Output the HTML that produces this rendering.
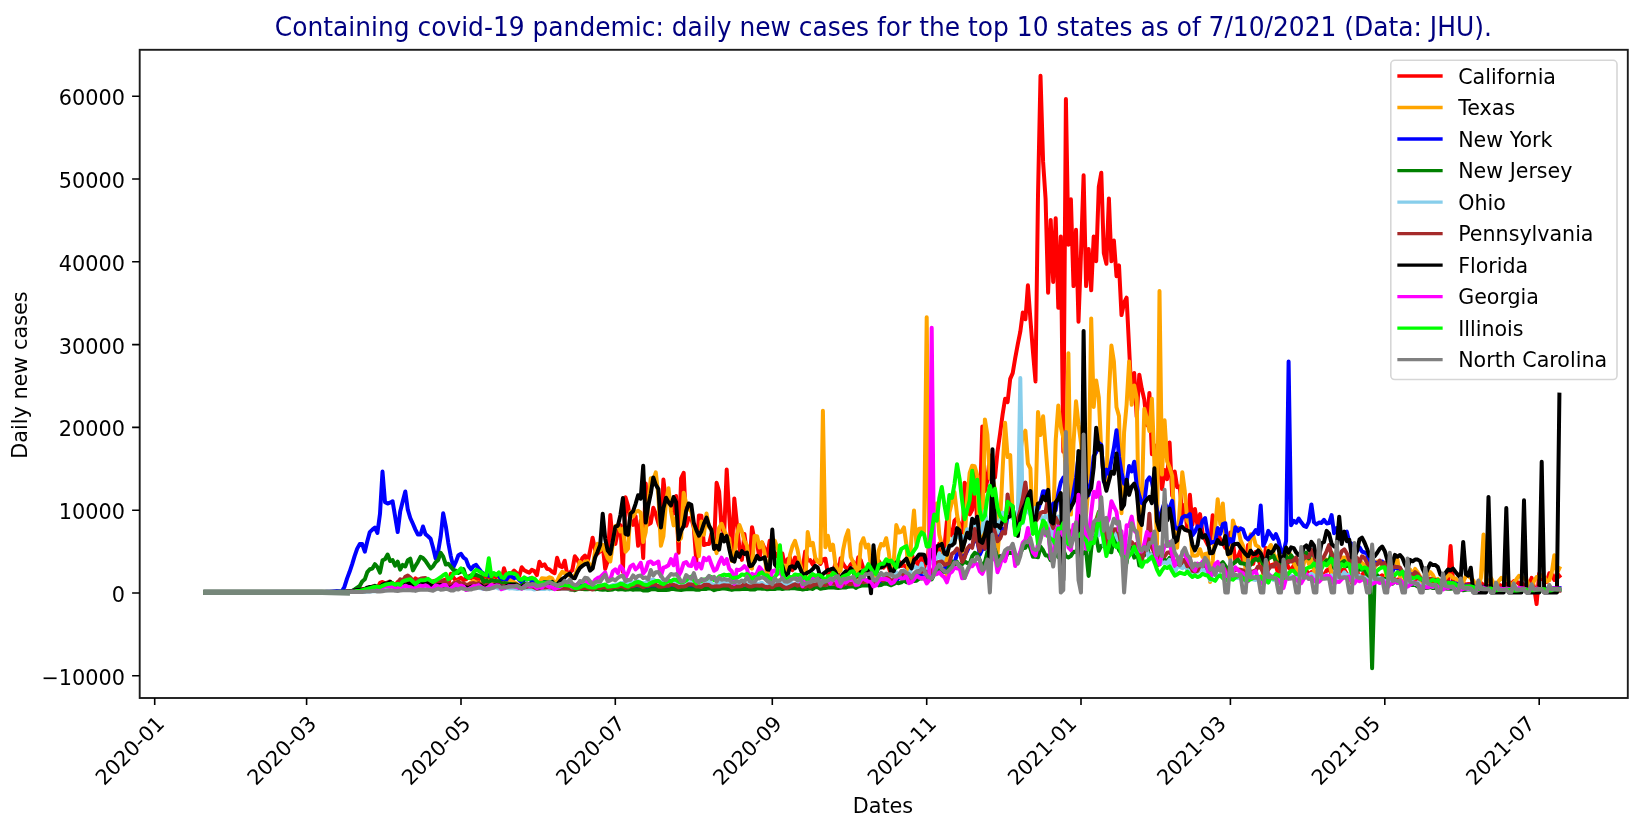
<!DOCTYPE html>
<html lang="en"><head><meta charset="utf-8"><title>Daily new cases</title>
<style>html,body{margin:0;padding:0;background:#fff}body{width:1643px;height:829px;overflow:hidden}svg{display:block;filter:blur(0.55px)}text{font-family:"DejaVu Sans","Liberation Sans",sans-serif}</style></head><body>
<svg width="1643" height="829" viewBox="0 0 1643 829">
<rect width="1643" height="829" fill="#fff"/>
<defs><clipPath id="ax"><rect x="139.7" y="49.8" width="1488.1" height="648.2"/></clipPath></defs>
<g clip-path="url(#ax)" fill="none" stroke-width="4.00" stroke-linejoin="round" stroke-linecap="square">
<polyline stroke="#ff0000" points="205.3,592.5 207.9,592.5 210.4,592.5 212.9,592.5 215.4,592.5 218.0,592.5 220.5,592.5 223.0,592.5 225.6,592.5 228.1,592.5 230.6,592.5 233.2,592.5 235.7,592.5 238.2,592.5 240.8,592.5 243.3,592.5 245.8,592.5 248.3,592.5 250.9,592.5 253.4,592.5 255.9,592.5 258.5,592.5 261.0,592.5 263.5,592.5 266.1,592.5 268.6,592.5 271.1,592.5 273.7,592.5 276.2,592.5 278.7,592.5 281.2,592.5 283.8,592.5 286.3,592.5 288.8,592.5 291.4,592.5 293.9,592.5 296.4,592.5 299.0,592.5 301.5,592.5 304.0,592.4 306.6,592.5 309.1,592.4 311.6,592.4 314.2,592.4 316.7,592.4 319.2,592.3 321.7,592.4 324.3,592.4 326.8,592.3 329.3,592.3 331.9,592.3 334.4,592.3 336.9,592.3 339.5,592.3 342.0,592.3 344.5,591.7 347.1,591.4 349.6,591.3 352.1,591.0 354.6,591.0 357.2,590.4 359.7,590.8 362.2,589.3 364.8,589.8 367.3,589.8 369.8,588.8 372.4,586.5 374.9,588.8 377.4,588.5 380.0,582.9 382.5,581.9 385.0,583.2 387.6,586.0 390.1,586.2 392.6,583.4 395.1,585.8 397.7,581.9 400.2,580.5 402.7,581.6 405.3,582.5 407.8,581.7 410.3,582.4 412.9,581.8 415.4,578.4 417.9,580.2 420.5,581.5 423.0,584.3 425.5,579.1 428.0,580.7 430.6,582.5 433.1,581.2 435.6,580.8 438.2,579.9 440.7,583.9 443.2,580.3 445.8,579.5 448.3,584.8 450.8,573.8 453.4,577.6 455.9,580.6 458.4,579.2 461.0,577.7 463.5,580.0 466.0,579.4 468.5,576.4 471.1,578.1 473.6,577.1 476.1,578.5 478.7,579.4 481.2,577.2 483.7,577.6 486.3,574.5 488.8,578.9 491.3,578.3 493.9,577.7 496.4,577.0 498.9,574.6 501.4,581.7 504.0,568.2 506.5,576.8 509.0,577.8 511.6,573.4 514.1,570.6 516.6,573.0 519.2,576.3 521.7,567.3 524.2,570.3 526.8,571.6 529.3,572.8 531.8,569.9 534.4,571.1 536.9,575.1 539.4,561.8 541.9,566.0 544.5,564.3 547.0,568.7 549.5,569.4 552.1,571.8 554.6,573.2 557.1,557.8 559.7,566.2 562.2,567.1 564.7,560.7 567.3,574.9 569.8,572.5 572.3,570.3 574.8,556.3 577.4,559.7 579.9,565.5 582.4,557.9 585.0,555.6 587.5,562.7 590.0,551.1 592.6,537.7 595.1,549.8 597.6,553.5 600.2,551.2 602.7,545.0 605.2,569.0 607.7,561.2 610.3,515.0 612.8,541.9 615.3,544.0 617.9,531.7 620.4,525.1 622.9,571.8 625.5,497.3 628.0,505.9 630.5,520.9 633.1,524.8 635.6,516.2 638.1,545.8 640.7,520.5 643.2,557.9 645.7,483.5 648.2,524.4 650.8,522.9 653.3,507.8 655.8,514.2 658.4,523.5 660.9,530.1 663.4,479.6 666.0,502.5 668.5,501.2 671.0,504.6 673.6,513.7 676.1,496.1 678.6,552.7 681.1,478.3 683.7,472.8 686.2,525.8 688.7,518.2 691.3,518.0 693.8,527.7 696.3,561.3 698.9,515.4 701.4,515.7 703.9,545.0 706.5,544.1 709.0,543.9 711.5,533.8 714.1,545.1 716.6,482.8 719.1,491.5 721.6,527.7 724.2,532.9 726.7,469.5 729.2,514.5 731.8,556.2 734.3,498.4 736.8,522.9 739.4,547.1 741.9,559.9 744.4,533.9 747.0,553.0 749.5,565.1 752.0,527.2 754.5,540.2 757.1,544.2 759.6,558.1 762.1,542.8 764.7,548.5 767.2,555.9 769.7,540.8 772.3,554.0 774.8,552.5 777.3,556.5 779.9,554.4 782.4,553.6 784.9,567.2 787.5,559.2 790.0,557.6 792.5,570.2 795.0,557.5 797.6,558.6 800.1,567.0 802.6,568.6 805.2,551.4 807.7,560.6 810.2,560.1 812.8,564.9 815.3,559.0 817.8,560.8 820.4,563.9 822.9,559.5 825.4,558.7 827.9,573.7 830.5,569.9 833.0,571.8 835.5,563.6 838.1,575.8 840.6,558.3 843.1,564.0 845.7,567.6 848.2,569.0 850.7,564.4 853.3,561.9 855.8,571.5 858.3,557.2 860.8,560.3 863.4,568.7 865.9,571.8 868.4,567.7 871.0,565.0 873.5,578.0 876.0,561.8 878.6,560.8 881.1,565.5 883.6,567.6 886.2,562.5 888.7,567.5 891.2,575.4 893.8,563.1 896.3,563.9 898.8,561.3 901.3,566.0 903.9,565.1 906.4,567.7 908.9,574.4 911.5,552.3 914.0,562.3 916.5,559.5 919.1,570.8 921.6,555.5 924.1,563.8 926.7,574.1 929.2,540.9 931.7,550.8 934.2,566.3 936.8,555.5 939.3,543.5 941.8,552.1 944.4,547.7 946.9,521.3 949.4,528.8 952.0,535.4 954.5,520.7 957.0,518.2 959.6,524.0 962.1,555.4 964.6,482.7 967.2,487.1 969.7,514.4 972.2,510.1 974.7,468.6 977.3,527.5 979.8,506.5 982.3,426.5 984.9,491.0 987.4,480.1 989.9,455.5 992.5,477.3 995.0,477.5 997.5,451.7 1000.1,433.5 1002.6,414.5 1005.1,398.7 1007.6,402.1 1010.2,378.9 1012.7,373.1 1015.2,358.2 1017.8,344.1 1020.3,331.7 1022.8,312.6 1025.4,319.3 1027.9,285.3 1030.4,319.3 1033.0,352.4 1035.5,381.4 1038.0,195.1 1040.5,75.8 1043.1,161.9 1045.6,199.2 1048.1,292.8 1050.7,219.9 1053.2,282.0 1055.7,218.2 1058.3,307.7 1060.8,236.5 1063.3,451.7 1065.9,99.0 1068.4,244.7 1070.9,199.2 1073.5,286.1 1076.0,229.8 1078.5,321.7 1081.0,253.0 1083.6,175.2 1086.1,286.1 1088.6,248.9 1091.2,290.3 1093.7,236.5 1096.2,261.3 1098.8,186.8 1101.3,172.7 1103.8,253.0 1106.4,263.8 1108.9,198.4 1111.4,261.3 1113.9,240.6 1116.5,276.2 1119.0,265.4 1121.5,315.1 1124.1,302.7 1126.6,297.7 1129.1,347.4 1131.7,400.4 1134.2,373.1 1136.7,417.0 1139.3,374.7 1141.8,388.8 1144.3,399.6 1146.9,425.2 1149.4,393.0 1151.9,454.2 1154.4,445.1 1157.0,479.1 1159.5,461.7 1162.0,489.0 1164.6,470.0 1167.1,479.1 1169.6,442.6 1172.2,495.6 1174.7,471.6 1177.2,487.3 1179.8,486.5 1182.3,516.3 1184.8,504.7 1187.3,530.4 1189.9,494.8 1192.4,524.6 1194.9,508.9 1197.5,525.5 1200.0,514.1 1202.5,532.7 1205.1,539.5 1207.6,544.6 1210.1,543.6 1212.7,515.3 1215.2,531.6 1217.7,533.3 1220.3,539.4 1222.8,543.2 1225.3,547.8 1227.8,549.5 1230.4,532.4 1232.9,542.1 1235.4,561.9 1238.0,556.4 1240.5,550.3 1243.0,561.7 1245.6,560.9 1248.1,544.9 1250.6,552.0 1253.2,563.9 1255.7,551.9 1258.2,556.6 1260.7,567.8 1263.3,571.4 1265.8,547.9 1268.3,564.8 1270.9,565.3 1273.4,564.3 1275.9,566.2 1278.5,574.2 1281.0,573.3 1283.5,558.9 1286.1,561.9 1288.6,567.7 1291.1,569.7 1293.7,565.6 1296.2,570.3 1298.7,574.9 1301.2,562.6 1303.8,568.7 1306.3,570.2 1308.8,574.9 1311.4,572.1 1313.9,573.4 1316.4,581.0 1319.0,565.5 1321.5,574.9 1324.0,574.9 1326.6,570.5 1329.1,569.0 1331.6,574.0 1334.1,577.6 1336.7,568.9 1339.2,564.1 1341.7,571.8 1344.3,569.4 1346.8,573.9 1349.3,575.2 1351.9,582.9 1354.4,564.5 1356.9,568.7 1359.5,580.1 1362.0,574.8 1364.5,572.0 1367.0,581.0 1369.6,584.0 1372.1,572.0 1374.6,575.1 1377.2,580.3 1379.7,576.7 1382.2,575.3 1384.8,577.1 1387.3,579.5 1389.8,568.9 1392.4,573.3 1394.9,581.5 1397.4,579.5 1400.0,579.8 1402.5,582.1 1405.0,582.5 1407.5,574.3 1410.1,576.7 1412.6,583.3 1415.1,582.3 1417.7,579.4 1420.2,581.8 1422.7,584.1 1425.3,576.6 1427.8,580.7 1430.3,580.8 1432.9,581.2 1435.4,581.3 1437.9,584.0 1440.4,585.1 1443.0,582.7 1445.5,582.7 1448.0,583.5 1450.6,546.1 1453.1,582.6 1455.6,584.3 1458.2,587.8 1460.7,581.3 1463.2,583.6 1465.8,584.4 1468.3,584.0 1470.8,584.1 1473.4,586.3 1475.9,586.8 1478.4,581.9 1480.9,582.9 1483.5,585.0 1486.0,585.8 1488.5,586.0 1491.1,586.2 1493.6,587.8 1496.1,583.5 1498.7,584.3 1501.2,586.0 1503.7,584.8 1506.3,583.5 1508.8,585.7 1511.3,583.6 1513.8,581.1 1516.4,581.2 1518.9,584.0 1521.4,582.1 1524.0,585.8 1526.5,584.9 1529.0,585.0 1531.6,577.9 1534.1,587.5 1536.6,604.1 1539.2,573.5 1541.7,579.1 1544.2,579.7 1546.8,581.8 1549.3,573.2 1551.8,574.2 1554.3,580.0 1556.9,573.1 1559.4,576.2"/>
<polyline stroke="#ffa500" points="205.3,592.5 207.9,592.5 210.4,592.5 212.9,592.5 215.4,592.5 218.0,592.5 220.5,592.5 223.0,592.5 225.6,592.5 228.1,592.5 230.6,592.5 233.2,592.5 235.7,592.5 238.2,592.5 240.8,592.5 243.3,592.5 245.8,592.5 248.3,592.5 250.9,592.5 253.4,592.5 255.9,592.5 258.5,592.5 261.0,592.5 263.5,592.5 266.1,592.5 268.6,592.5 271.1,592.5 273.7,592.5 276.2,592.5 278.7,592.5 281.2,592.5 283.8,592.5 286.3,592.5 288.8,592.5 291.4,592.5 293.9,592.5 296.4,592.5 299.0,592.5 301.5,592.5 304.0,592.5 306.6,592.5 309.1,592.5 311.6,592.5 314.2,592.5 316.7,592.5 319.2,592.5 321.7,592.4 324.3,592.4 326.8,592.4 329.3,592.4 331.9,592.3 334.4,592.3 336.9,592.3 339.5,592.3 342.0,592.3 344.5,592.3 347.1,592.1 349.6,592.0 352.1,592.0 354.6,592.1 357.2,591.8 359.7,591.8 362.2,591.6 364.8,590.7 367.3,590.1 369.8,589.8 372.4,589.6 374.9,589.1 377.4,590.4 380.0,589.8 382.5,587.2 385.0,588.3 387.6,587.7 390.1,587.5 392.6,587.8 395.1,588.7 397.7,588.6 400.2,586.3 402.7,585.8 405.3,585.4 407.8,587.1 410.3,587.0 412.9,587.9 415.4,588.1 417.9,585.6 420.5,583.6 423.0,584.8 425.5,584.3 428.0,584.9 430.6,587.0 433.1,586.4 435.6,584.2 438.2,584.5 440.7,583.7 443.2,583.8 445.8,585.4 448.3,586.9 450.8,585.8 453.4,584.2 455.9,582.2 458.4,581.5 461.0,584.0 463.5,584.3 466.0,586.6 468.5,584.6 471.1,582.4 473.6,581.0 476.1,582.8 478.7,582.6 481.2,583.6 483.7,587.5 486.3,583.9 488.8,580.9 491.3,582.5 493.9,580.4 496.4,581.8 498.9,582.4 501.4,584.9 504.0,586.3 506.5,581.2 509.0,578.4 511.6,581.0 514.1,582.1 516.6,583.6 519.2,586.2 521.7,583.8 524.2,578.3 526.8,578.6 529.3,579.3 531.8,577.7 534.4,582.1 536.9,585.2 539.4,583.1 541.9,578.2 544.5,578.5 547.0,578.8 549.5,577.2 552.1,578.4 554.6,584.0 557.1,581.2 559.7,575.6 562.2,571.9 564.7,573.1 567.3,573.7 569.8,575.8 572.3,577.5 574.8,575.5 577.4,569.4 579.9,562.0 582.4,564.6 585.0,561.8 587.5,561.1 590.0,565.1 592.6,568.0 595.1,551.1 597.6,543.9 600.2,550.4 602.7,544.9 605.2,551.7 607.7,558.3 610.3,561.5 612.8,544.1 615.3,526.2 617.9,525.2 620.4,531.5 622.9,528.5 625.5,551.8 628.0,548.8 630.5,511.9 633.1,516.5 635.6,512.1 638.1,510.8 640.7,512.7 643.2,542.1 645.7,532.3 648.2,503.8 650.8,478.2 653.3,479.9 655.8,472.4 658.4,495.4 660.9,545.8 663.4,536.3 666.0,501.6 668.5,488.2 671.0,511.5 673.6,525.4 676.1,517.4 678.6,540.5 681.1,538.0 683.7,492.7 686.2,503.5 688.7,508.9 691.3,511.5 693.8,526.7 696.3,540.9 698.9,556.1 701.4,521.5 703.9,534.7 706.5,513.4 709.0,527.2 711.5,529.9 714.1,543.7 716.6,553.1 719.1,527.8 721.6,523.8 724.2,530.7 726.7,535.6 729.2,538.6 731.8,561.0 734.3,558.0 736.8,535.1 739.4,525.0 741.9,531.8 744.4,540.6 747.0,545.7 749.5,566.7 752.0,568.6 754.5,536.1 757.1,536.3 759.6,547.5 762.1,542.2 764.7,553.8 767.2,579.8 769.7,558.9 772.3,548.6 774.8,540.6 777.3,548.1 779.9,554.3 782.4,571.4 784.9,565.5 787.5,570.2 790.0,554.7 792.5,546.0 795.0,540.8 797.6,550.1 800.1,563.8 802.6,574.2 805.2,586.7 807.7,532.1 810.2,545.3 812.8,542.8 815.3,557.9 817.8,562.0 820.4,562.4 822.9,410.8 825.4,547.3 827.9,535.8 830.5,550.1 833.0,544.7 835.5,565.0 838.1,571.6 840.6,570.9 843.1,550.0 845.7,537.5 848.2,530.4 850.7,556.9 853.3,562.5 855.8,568.4 858.3,577.4 860.8,544.3 863.4,538.2 865.9,547.5 868.4,544.7 871.0,568.4 873.5,564.9 876.0,580.5 878.6,551.0 881.1,544.0 883.6,545.5 886.2,538.2 888.7,551.9 891.2,572.8 893.8,560.4 896.3,525.1 898.8,532.5 901.3,531.8 903.9,527.4 906.4,544.9 908.9,579.2 911.5,537.1 914.0,510.5 916.5,545.7 919.1,528.7 921.6,528.6 924.1,532.0 926.7,317.2 929.2,561.3 931.7,536.2 934.2,512.4 936.8,503.5 939.3,534.7 941.8,544.6 944.4,557.1 946.9,576.7 949.4,512.4 952.0,502.1 954.5,492.2 957.0,514.4 959.6,529.6 962.1,553.8 964.6,540.3 967.2,498.2 969.7,472.8 972.2,465.7 974.7,466.2 977.3,475.8 979.8,551.7 982.3,537.9 984.9,419.4 987.4,434.8 989.9,478.7 992.5,479.0 995.0,489.7 997.5,554.6 1000.1,522.3 1002.6,470.0 1005.1,422.8 1007.6,457.0 1010.2,455.1 1012.7,513.8 1015.2,521.2 1017.8,519.4 1020.3,451.9 1022.8,435.5 1025.4,430.7 1027.9,463.5 1030.4,468.6 1033.0,533.1 1035.5,506.7 1038.0,412.0 1040.5,435.1 1043.1,416.3 1045.6,447.2 1048.1,478.0 1050.7,541.0 1053.2,525.2 1055.7,440.1 1058.3,405.4 1060.8,427.3 1063.3,437.9 1065.9,469.5 1068.4,353.2 1070.9,514.6 1073.5,443.8 1076.0,401.3 1078.5,424.3 1081.0,443.0 1083.6,468.6 1086.1,515.1 1088.6,484.4 1091.2,318.4 1093.7,407.0 1096.2,380.6 1098.8,397.2 1101.3,451.8 1103.8,478.6 1106.4,487.3 1108.9,394.2 1111.4,345.5 1113.9,361.5 1116.5,407.3 1119.0,416.1 1121.5,513.3 1124.1,432.3 1126.6,404.6 1129.1,361.5 1131.7,404.8 1134.2,385.5 1136.7,397.7 1139.3,554.2 1141.8,502.8 1144.3,408.7 1146.9,418.6 1149.4,431.0 1151.9,398.8 1154.4,462.9 1157.0,544.6 1159.5,291.1 1162.0,474.6 1164.6,420.3 1167.1,461.2 1169.6,467.4 1172.2,476.0 1174.7,533.5 1177.2,547.7 1179.8,507.5 1182.3,472.2 1184.8,491.3 1187.3,520.8 1189.9,524.4 1192.4,555.4 1194.9,555.7 1197.5,555.3 1200.0,549.2 1202.5,556.9 1205.1,553.9 1207.6,553.4 1210.1,582.0 1212.7,561.0 1215.2,528.1 1217.7,499.2 1220.3,524.2 1222.8,503.5 1225.3,536.2 1227.8,552.7 1230.4,559.4 1232.9,520.4 1235.4,529.4 1238.0,527.9 1240.5,540.1 1243.0,545.6 1245.6,569.9 1248.1,572.6 1250.6,534.3 1253.2,535.3 1255.7,545.1 1258.2,546.6 1260.7,550.9 1263.3,576.1 1265.8,569.9 1268.3,548.7 1270.9,545.0 1273.4,552.2 1275.9,564.2 1278.5,555.4 1281.0,572.3 1283.5,571.5 1286.1,556.4 1288.6,550.8 1291.1,556.6 1293.7,562.7 1296.2,567.2 1298.7,578.0 1301.2,576.2 1303.8,563.7 1306.3,553.9 1308.8,563.9 1311.4,559.4 1313.9,570.4 1316.4,575.6 1319.0,569.8 1321.5,560.0 1324.0,560.1 1326.6,559.4 1329.1,561.7 1331.6,573.4 1334.1,579.4 1336.7,574.6 1339.2,563.0 1341.7,557.7 1344.3,557.4 1346.8,560.1 1349.3,564.4 1351.9,575.5 1354.4,576.8 1356.9,562.6 1359.5,560.6 1362.0,562.9 1364.5,565.2 1367.0,575.0 1369.6,579.6 1372.1,576.8 1374.6,567.6 1377.2,561.6 1379.7,561.9 1382.2,566.7 1384.8,563.7 1387.3,587.8 1389.8,578.7 1392.4,572.5 1394.9,561.9 1397.4,559.2 1400.0,576.8 1402.5,573.3 1405.0,579.9 1407.5,581.0 1410.1,569.4 1412.6,574.9 1415.1,568.9 1417.7,572.4 1420.2,576.7 1422.7,584.5 1425.3,580.7 1427.8,575.2 1430.3,572.0 1432.9,575.1 1435.4,580.6 1437.9,578.8 1440.4,583.9 1443.0,581.9 1445.5,578.2 1448.0,575.2 1450.6,575.3 1453.1,577.9 1455.6,578.4 1458.2,582.0 1460.7,586.3 1463.2,582.1 1465.8,576.1 1468.3,575.9 1470.8,578.1 1473.4,580.4 1475.9,587.0 1478.4,586.4 1480.9,577.9 1483.5,534.5 1486.0,581.9 1488.5,581.7 1491.1,578.1 1493.6,583.2 1496.1,586.6 1498.7,581.0 1501.2,577.9 1503.7,580.0 1506.3,577.5 1508.8,581.6 1511.3,587.6 1513.8,582.4 1516.4,579.2 1518.9,575.9 1521.4,577.1 1524.0,578.7 1526.5,579.5 1529.0,586.2 1531.6,587.4 1534.1,580.9 1536.6,577.1 1539.2,576.8 1541.7,575.6 1544.2,577.1 1546.8,581.2 1549.3,580.4 1551.8,572.3 1554.3,555.2 1556.9,573.3 1559.4,568.1"/>
<polyline stroke="#0000ff" points="205.3,592.5 207.9,592.5 210.4,592.5 212.9,592.5 215.4,592.5 218.0,592.5 220.5,592.5 223.0,592.5 225.6,592.5 228.1,592.5 230.6,592.5 233.2,592.5 235.7,592.5 238.2,592.5 240.8,592.5 243.3,592.5 245.8,592.5 248.3,592.5 250.9,592.5 253.4,592.5 255.9,592.5 258.5,592.5 261.0,592.5 263.5,592.5 266.1,592.5 268.6,592.5 271.1,592.5 273.7,592.5 276.2,592.5 278.7,592.5 281.2,592.5 283.8,592.5 286.3,592.5 288.8,592.5 291.4,592.5 293.9,592.5 296.4,592.5 299.0,592.5 301.5,592.5 304.0,592.5 306.6,592.5 309.1,592.4 311.6,592.3 314.2,592.2 316.7,592.1 319.2,592.0 321.7,592.0 324.3,591.9 326.8,591.8 329.3,591.7 331.9,591.5 334.4,591.3 336.9,591.1 339.5,591.2 342.0,591.3 344.5,586.7 347.1,578.4 349.6,571.8 352.1,564.3 354.6,556.1 357.2,548.6 359.7,544.1 362.2,544.1 364.8,551.7 367.3,541.2 369.8,532.1 372.4,529.6 374.9,527.6 377.4,532.9 380.0,513.8 382.5,471.6 385.0,502.2 387.6,503.5 390.1,502.7 392.6,501.3 395.1,516.3 397.7,532.1 400.2,511.4 402.7,501.4 405.3,491.5 407.8,509.7 410.3,518.0 412.9,523.8 415.4,529.6 417.9,534.5 420.5,534.5 423.0,526.5 425.5,534.1 428.0,536.2 430.6,538.7 433.1,547.8 435.6,558.3 438.2,551.1 440.7,536.4 443.2,513.3 445.8,526.3 448.3,542.8 450.8,556.1 453.4,567.1 455.9,561.9 458.4,555.2 461.0,553.9 463.5,557.7 466.0,559.4 468.5,566.0 471.1,569.3 473.6,566.0 476.1,564.8 478.7,568.5 481.2,571.8 483.7,573.6 486.3,574.2 488.8,575.8 491.3,573.7 493.9,573.7 496.4,574.1 498.9,575.6 501.4,579.5 504.0,578.7 506.5,579.5 509.0,576.0 511.6,576.5 514.1,578.2 516.6,576.9 519.2,580.0 521.7,582.3 524.2,579.4 526.8,579.5 529.3,578.6 531.8,581.1 534.4,580.8 536.9,583.0 539.4,583.4 541.9,583.3 544.5,582.2 547.0,583.5 549.5,583.5 552.1,584.1 554.6,585.4 557.1,585.5 559.7,585.0 562.2,584.6 564.7,584.7 567.3,585.1 569.8,585.6 572.3,586.4 574.8,586.6 577.4,586.7 579.9,586.3 582.4,585.4 585.0,586.2 587.5,586.0 590.0,586.9 592.6,587.3 595.1,586.8 597.6,587.0 600.2,586.1 602.7,586.3 605.2,587.2 607.7,587.5 610.3,587.9 612.8,587.0 615.3,587.1 617.9,586.7 620.4,586.5 622.9,586.8 625.5,587.6 628.0,587.7 630.5,587.1 633.1,586.8 635.6,586.5 638.1,587.4 640.7,586.3 643.2,587.6 645.7,588.1 648.2,587.2 650.8,586.5 653.3,586.1 655.8,586.7 658.4,586.0 660.9,587.6 663.4,586.6 666.0,587.2 668.5,586.4 671.0,586.5 673.6,586.6 676.1,586.1 678.6,587.1 681.1,586.8 683.7,586.8 686.2,586.7 688.7,586.8 691.3,586.4 693.8,586.6 696.3,587.7 698.9,587.1 701.4,586.9 703.9,586.5 706.5,586.1 709.0,586.1 711.5,586.2 714.1,587.1 716.6,586.9 719.1,587.2 721.6,586.9 724.2,585.6 726.7,585.9 729.2,585.8 731.8,587.9 734.3,587.3 736.8,586.9 739.4,586.8 741.9,586.2 744.4,585.7 747.0,585.8 749.5,586.7 752.0,587.4 754.5,587.4 757.1,586.0 759.6,585.6 762.1,585.8 764.7,586.5 767.2,586.9 769.7,586.8 772.3,586.6 774.8,586.3 777.3,585.8 779.9,585.5 782.4,586.2 784.9,587.8 787.5,586.9 790.0,586.6 792.5,586.1 795.0,585.5 797.6,585.9 800.1,586.0 802.6,587.2 805.2,586.7 807.7,586.1 810.2,585.9 812.8,584.4 815.3,584.2 817.8,584.6 820.4,585.8 822.9,584.9 825.4,585.2 827.9,584.1 830.5,584.0 833.0,582.8 835.5,582.5 838.1,584.4 840.6,584.0 843.1,583.7 845.7,582.3 848.2,582.6 850.7,580.7 853.3,581.9 855.8,584.2 858.3,583.7 860.8,583.2 863.4,580.9 865.9,580.1 868.4,581.3 871.0,580.2 873.5,582.2 876.0,582.9 878.6,582.9 881.1,581.0 883.6,580.3 886.2,579.0 888.7,579.7 891.2,583.1 893.8,580.8 896.3,581.3 898.8,577.5 901.3,578.3 903.9,577.2 906.4,577.6 908.9,580.0 911.5,577.6 914.0,577.0 916.5,575.2 919.1,574.4 921.6,575.5 924.1,574.9 926.7,578.0 929.2,577.0 931.7,573.2 934.2,571.3 936.8,568.9 939.3,567.6 941.8,568.8 944.4,568.6 946.9,565.6 949.4,565.1 952.0,562.3 954.5,562.6 957.0,554.5 959.6,552.0 962.1,559.4 964.6,555.7 967.2,551.0 969.7,545.6 972.2,546.0 974.7,539.1 977.3,540.2 979.8,554.7 982.3,549.1 984.9,548.7 987.4,537.5 989.9,531.3 992.5,534.0 995.0,538.3 997.5,536.4 1000.1,537.1 1002.6,528.9 1005.1,530.4 1007.6,515.8 1010.2,507.5 1012.7,508.0 1015.2,529.3 1017.8,523.5 1020.3,520.0 1022.8,503.7 1025.4,497.5 1027.9,500.0 1030.4,510.3 1033.0,515.5 1035.5,519.4 1038.0,509.8 1040.5,502.2 1043.1,491.2 1045.6,491.4 1048.1,502.8 1050.7,514.8 1053.2,503.5 1055.7,510.1 1058.3,493.0 1060.8,482.4 1063.3,477.6 1065.9,483.8 1068.4,511.9 1070.9,507.7 1073.5,492.0 1076.0,477.8 1078.5,456.8 1081.0,474.8 1083.6,462.0 1086.1,483.1 1088.6,495.2 1091.2,480.6 1093.7,456.3 1096.2,452.3 1098.8,442.9 1101.3,444.8 1103.8,481.5 1106.4,469.6 1108.9,473.9 1111.4,460.6 1113.9,448.0 1116.5,430.2 1119.0,456.5 1121.5,472.4 1124.1,483.6 1126.6,482.0 1129.1,466.0 1131.7,471.4 1134.2,461.7 1136.7,485.3 1139.3,495.7 1141.8,503.2 1144.3,503.3 1146.9,480.9 1149.4,477.4 1151.9,482.0 1154.4,495.0 1157.0,509.9 1159.5,523.0 1162.0,510.2 1164.6,502.2 1167.1,508.0 1169.6,507.9 1172.2,500.8 1174.7,526.3 1177.2,528.7 1179.8,527.8 1182.3,517.4 1184.8,516.1 1187.3,516.4 1189.9,514.0 1192.4,535.5 1194.9,531.8 1197.5,526.3 1200.0,530.3 1202.5,521.1 1205.1,518.1 1207.6,533.3 1210.1,543.3 1212.7,541.9 1215.2,542.4 1217.7,528.0 1220.3,533.9 1222.8,524.2 1225.3,523.2 1227.8,545.2 1230.4,539.2 1232.9,542.7 1235.4,527.3 1238.0,530.8 1240.5,528.4 1243.0,529.6 1245.6,537.2 1248.1,539.4 1250.6,536.2 1253.2,533.8 1255.7,530.0 1258.2,534.0 1260.7,505.6 1263.3,545.7 1265.8,539.9 1268.3,530.9 1270.9,534.6 1273.4,538.8 1275.9,534.1 1278.5,540.2 1281.0,551.4 1283.5,552.8 1286.1,540.9 1288.6,361.5 1291.1,525.3 1293.7,520.8 1296.2,522.7 1298.7,518.5 1301.2,522.3 1303.8,525.8 1306.3,526.9 1308.8,521.9 1311.4,504.4 1313.9,522.1 1316.4,524.4 1319.0,522.6 1321.5,522.9 1324.0,519.9 1326.6,523.4 1329.1,523.1 1331.6,515.1 1334.1,533.2 1336.7,528.0 1339.2,538.7 1341.7,532.6 1344.3,532.1 1346.8,531.6 1349.3,542.2 1351.9,544.2 1354.4,546.7 1356.9,551.2 1359.5,547.3 1362.0,551.6 1364.5,552.5 1367.0,553.2 1369.6,564.3 1372.1,559.8 1374.6,562.4 1377.2,563.1 1379.7,562.2 1382.2,561.5 1384.8,565.8 1387.3,566.5 1389.8,570.7 1392.4,571.2 1394.9,566.7 1397.4,568.6 1400.0,568.6 1402.5,572.2 1405.0,573.0 1407.5,574.2 1410.1,574.2 1412.6,574.7 1415.1,574.0 1417.7,576.5 1420.2,578.0 1422.7,580.3 1425.3,578.3 1427.8,580.0 1430.3,579.9 1432.9,579.9 1435.4,579.9 1437.9,581.2 1440.4,582.1 1443.0,582.6 1445.5,582.7 1448.0,582.8 1450.6,582.4 1453.1,583.0 1455.6,583.4 1458.2,584.6 1460.7,584.9 1463.2,586.3 1465.8,585.4 1468.3,585.6 1470.8,585.2 1473.4,586.5 1475.9,587.1 1478.4,587.1 1480.9,587.2 1483.5,586.7 1486.0,587.3 1488.5,587.2 1491.1,588.2 1493.6,589.0 1496.1,588.4 1498.7,588.8 1501.2,588.6 1503.7,588.6 1506.3,588.5 1508.8,589.0 1511.3,588.9 1513.8,589.3 1516.4,588.9 1518.9,588.9 1521.4,589.3 1524.0,589.1 1526.5,588.7 1529.0,589.4 1531.6,589.4 1534.1,589.2 1536.6,589.2 1539.2,589.1 1541.7,588.9 1544.2,588.8 1546.8,588.8 1549.3,589.0 1551.8,588.4 1554.3,588.1 1556.9,587.9 1559.4,588.0"/>
<polyline stroke="#008000" points="205.3,592.5 207.9,592.5 210.4,592.5 212.9,592.5 215.4,592.5 218.0,592.5 220.5,592.5 223.0,592.5 225.6,592.5 228.1,592.5 230.6,592.5 233.2,592.5 235.7,592.5 238.2,592.5 240.8,592.5 243.3,592.5 245.8,592.5 248.3,592.5 250.9,592.5 253.4,592.5 255.9,592.5 258.5,592.5 261.0,592.5 263.5,592.5 266.1,592.5 268.6,592.5 271.1,592.5 273.7,592.5 276.2,592.5 278.7,592.5 281.2,592.5 283.8,592.5 286.3,592.5 288.8,592.5 291.4,592.5 293.9,592.5 296.4,592.5 299.0,592.5 301.5,592.5 304.0,592.5 306.6,592.5 309.1,592.5 311.6,592.5 314.2,592.5 316.7,592.5 319.2,592.5 321.7,592.5 324.3,592.5 326.8,592.5 329.3,592.5 331.9,592.3 334.4,592.1 336.9,591.9 339.5,591.8 342.0,591.8 344.5,591.6 347.1,591.6 349.6,591.0 352.1,591.0 354.6,589.5 357.2,587.7 359.7,586.0 362.2,581.5 364.8,579.3 367.3,572.1 369.8,569.2 372.4,568.6 374.9,564.2 377.4,567.0 380.0,572.6 382.5,560.3 385.0,559.2 387.6,554.5 390.1,561.0 392.6,560.1 395.1,565.7 397.7,561.7 400.2,569.6 402.7,564.9 405.3,566.4 407.8,560.2 410.3,558.7 412.9,570.4 415.4,566.1 417.9,561.9 420.5,556.8 423.0,558.1 425.5,560.9 428.0,564.6 430.6,568.5 433.1,566.3 435.6,562.2 438.2,559.9 440.7,552.8 443.2,556.7 445.8,564.5 448.3,563.8 450.8,566.7 453.4,570.0 455.9,570.7 458.4,572.9 461.0,571.7 463.5,569.1 466.0,576.8 468.5,577.8 471.1,575.3 473.6,574.9 476.1,574.8 478.7,575.9 481.2,576.6 483.7,582.6 486.3,580.3 488.8,582.5 491.3,580.1 493.9,580.7 496.4,581.1 498.9,581.2 501.4,584.1 504.0,583.1 506.5,583.4 509.0,583.8 511.6,584.2 514.1,584.6 516.6,584.9 519.2,586.1 521.7,585.9 524.2,583.6 526.8,585.0 529.3,584.8 531.8,586.1 534.4,586.5 536.9,587.4 539.4,587.1 541.9,587.7 544.5,586.0 547.0,587.1 549.5,586.5 552.1,588.5 554.6,588.3 557.1,588.2 559.7,588.2 562.2,587.9 564.7,588.0 567.3,588.3 569.8,589.4 572.3,589.7 574.8,590.2 577.4,589.1 579.9,589.0 582.4,589.0 585.0,589.3 587.5,589.3 590.0,589.1 592.6,589.0 595.1,589.4 597.6,588.8 600.2,589.6 602.7,589.7 605.2,589.4 607.7,590.0 610.3,589.8 612.8,589.5 615.3,588.4 617.9,589.4 620.4,589.2 622.9,589.2 625.5,589.8 628.0,589.4 630.5,589.1 633.1,589.8 635.6,589.2 638.1,589.4 640.7,589.3 643.2,590.4 645.7,590.3 648.2,590.4 650.8,589.3 653.3,589.3 655.8,589.3 658.4,590.1 660.9,590.0 663.4,590.0 666.0,590.1 668.5,589.7 671.0,589.0 673.6,589.1 676.1,589.4 678.6,589.7 681.1,589.9 683.7,589.5 686.2,589.3 688.7,589.0 691.3,589.2 693.8,589.3 696.3,589.8 698.9,589.8 701.4,588.8 703.9,589.0 706.5,588.9 709.0,588.3 711.5,588.7 714.1,590.2 716.6,589.3 719.1,589.1 721.6,588.5 724.2,588.5 726.7,588.7 729.2,589.4 731.8,589.9 734.3,589.3 736.8,589.1 739.4,589.3 741.9,589.0 744.4,589.0 747.0,588.9 749.5,589.4 752.0,589.4 754.5,589.6 757.1,588.5 759.6,588.2 762.1,588.8 764.7,588.5 767.2,589.3 769.7,589.0 772.3,588.9 774.8,589.1 777.3,588.4 779.9,588.3 782.4,589.1 784.9,588.6 787.5,588.4 790.0,588.4 792.5,588.0 795.0,588.3 797.6,588.7 800.1,588.9 802.6,589.5 805.2,589.0 807.7,588.9 810.2,588.3 812.8,589.0 815.3,587.2 817.8,587.3 820.4,588.8 822.9,588.2 825.4,588.0 827.9,587.6 830.5,587.6 833.0,587.4 835.5,587.8 838.1,588.0 840.6,587.8 843.1,587.4 845.7,587.5 848.2,586.7 850.7,586.5 853.3,586.2 855.8,587.9 858.3,586.6 860.8,585.9 863.4,585.4 865.9,585.6 868.4,585.5 871.0,585.4 873.5,585.7 876.0,584.6 878.6,585.4 881.1,585.0 883.6,583.7 886.2,583.4 888.7,584.3 891.2,585.3 893.8,584.0 896.3,582.5 898.8,583.2 901.3,582.3 903.9,580.3 906.4,582.3 908.9,582.2 911.5,581.1 914.0,580.9 916.5,580.7 919.1,578.6 921.6,578.5 924.1,577.8 926.7,581.3 929.2,576.8 931.7,579.4 934.2,574.4 936.8,572.1 939.3,568.9 941.8,571.7 944.4,571.5 946.9,572.1 949.4,566.8 952.0,561.3 954.5,564.9 957.0,561.8 959.6,565.8 962.1,564.2 964.6,561.5 967.2,563.0 969.7,563.3 972.2,556.3 974.7,552.9 977.3,554.2 979.8,560.2 982.3,567.6 984.9,562.2 987.4,552.0 989.9,559.5 992.5,551.1 995.0,549.6 997.5,558.9 1000.1,556.0 1002.6,559.5 1005.1,559.2 1007.6,553.0 1010.2,552.7 1012.7,553.0 1015.2,555.6 1017.8,556.8 1020.3,553.2 1022.8,548.4 1025.4,547.8 1027.9,540.7 1030.4,548.5 1033.0,556.8 1035.5,556.8 1038.0,557.2 1040.5,546.8 1043.1,550.3 1045.6,555.5 1048.1,555.4 1050.7,560.2 1053.2,559.6 1055.7,552.0 1058.3,557.1 1060.8,548.9 1063.3,549.8 1065.9,556.2 1068.4,557.4 1070.9,556.1 1073.5,551.7 1076.0,552.0 1078.5,546.9 1081.0,554.7 1083.6,553.1 1086.1,551.1 1088.6,575.9 1091.2,549.3 1093.7,530.4 1096.2,536.7 1098.8,550.8 1101.3,545.7 1103.8,545.4 1106.4,544.4 1108.9,551.4 1111.4,552.3 1113.9,535.7 1116.5,542.6 1119.0,550.0 1121.5,553.6 1124.1,549.0 1126.6,562.9 1129.1,544.8 1131.7,545.5 1134.2,557.6 1136.7,548.6 1139.3,565.4 1141.8,553.3 1144.3,555.2 1146.9,546.2 1149.4,555.9 1151.9,554.5 1154.4,553.0 1157.0,564.9 1159.5,564.4 1162.0,562.5 1164.6,559.5 1167.1,562.0 1169.6,557.8 1172.2,559.5 1174.7,566.3 1177.2,560.9 1179.8,566.2 1182.3,560.0 1184.8,564.6 1187.3,561.7 1189.9,570.5 1192.4,569.6 1194.9,570.1 1197.5,569.8 1200.0,568.0 1202.5,566.2 1205.1,567.0 1207.6,571.6 1210.1,571.5 1212.7,570.3 1215.2,569.1 1217.7,568.3 1220.3,564.7 1222.8,562.2 1225.3,565.8 1227.8,570.6 1230.4,564.5 1232.9,564.1 1235.4,561.7 1238.0,559.6 1240.5,563.3 1243.0,563.5 1245.6,564.1 1248.1,567.4 1250.6,564.7 1253.2,560.5 1255.7,558.9 1258.2,560.5 1260.7,557.5 1263.3,565.7 1265.8,561.3 1268.3,558.7 1270.9,557.3 1273.4,555.5 1275.9,561.4 1278.5,563.0 1281.0,565.8 1283.5,560.7 1286.1,555.8 1288.6,562.0 1291.1,555.4 1293.7,559.1 1296.2,559.8 1298.7,563.5 1301.2,558.7 1303.8,558.8 1306.3,552.5 1308.8,558.4 1311.4,552.5 1313.9,554.3 1316.4,563.1 1319.0,560.9 1321.5,563.5 1324.0,563.1 1326.6,560.2 1329.1,561.5 1331.6,552.6 1334.1,568.0 1336.7,561.1 1339.2,564.7 1341.7,562.7 1344.3,561.0 1346.8,566.1 1349.3,563.9 1351.9,570.2 1354.4,574.6 1356.9,569.8 1359.5,569.2 1362.0,569.7 1364.5,568.7 1367.0,574.3 1369.6,576.3 1372.1,668.3 1374.6,578.8 1377.2,575.2 1379.7,579.3 1382.2,579.9 1384.8,578.9 1387.3,583.3 1389.8,582.1 1392.4,583.7 1394.9,581.5 1397.4,582.8 1400.0,581.8 1402.5,584.4 1405.0,584.5 1407.5,585.2 1410.1,585.1 1412.6,585.0 1415.1,585.1 1417.7,586.6 1420.2,588.0 1422.7,587.5 1425.3,588.0 1427.8,587.7 1430.3,587.0 1432.9,588.1 1435.4,587.7 1437.9,588.0 1440.4,589.1 1443.0,588.4 1445.5,588.6 1448.0,588.7 1450.6,588.8 1453.1,588.3 1455.6,589.2 1458.2,589.5 1460.7,589.5 1463.2,590.3 1465.8,589.8 1468.3,589.4 1470.8,589.3 1473.4,589.4 1475.9,589.8 1478.4,589.7 1480.9,590.0 1483.5,589.7 1486.0,589.4 1488.5,589.7 1491.1,589.4 1493.6,590.6 1496.1,589.9 1498.7,590.0 1501.2,590.3 1503.7,589.5 1506.3,589.7 1508.8,589.9 1511.3,590.6 1513.8,590.3 1516.4,589.8 1518.9,590.2 1521.4,590.7 1524.0,590.1 1526.5,590.3 1529.0,590.5 1531.6,590.5 1534.1,590.5 1536.6,590.3 1539.2,589.8 1541.7,590.4 1544.2,589.8 1546.8,590.7 1549.3,590.7 1551.8,590.3 1554.3,590.2 1556.9,590.4 1559.4,590.1"/>
<polyline stroke="#87ceeb" points="205.3,592.5 207.9,592.5 210.4,592.5 212.9,592.5 215.4,592.5 218.0,592.5 220.5,592.5 223.0,592.5 225.6,592.5 228.1,592.5 230.6,592.5 233.2,592.5 235.7,592.5 238.2,592.5 240.8,592.5 243.3,592.5 245.8,592.5 248.3,592.5 250.9,592.5 253.4,592.5 255.9,592.5 258.5,592.5 261.0,592.5 263.5,592.5 266.1,592.5 268.6,592.5 271.1,592.5 273.7,592.5 276.2,592.5 278.7,592.5 281.2,592.5 283.8,592.5 286.3,592.5 288.8,592.5 291.4,592.5 293.9,592.5 296.4,592.5 299.0,592.5 301.5,592.5 304.0,592.5 306.6,592.5 309.1,592.5 311.6,592.5 314.2,592.5 316.7,592.5 319.2,592.5 321.7,592.5 324.3,592.5 326.8,592.5 329.3,592.5 331.9,592.4 334.4,592.4 336.9,592.3 339.5,592.3 342.0,592.3 344.5,592.2 347.1,592.1 349.6,592.0 352.1,592.1 354.6,591.9 357.2,592.0 359.7,592.0 362.2,591.8 364.8,591.7 367.3,591.6 369.8,591.5 372.4,591.2 374.9,591.3 377.4,591.0 380.0,590.7 382.5,590.1 385.0,590.0 387.6,590.2 390.1,589.9 392.6,590.1 395.1,589.9 397.7,589.0 400.2,588.9 402.7,589.9 405.3,589.3 407.8,589.2 410.3,588.7 412.9,589.1 415.4,588.6 417.9,587.4 420.5,588.5 423.0,588.2 425.5,586.8 428.0,587.7 430.6,588.6 433.1,588.8 435.6,588.0 438.2,588.7 440.7,587.3 443.2,587.4 445.8,587.3 448.3,588.4 450.8,588.4 453.4,587.9 455.9,586.9 458.4,588.4 461.0,587.6 463.5,588.1 466.0,588.3 468.5,588.5 471.1,587.6 473.6,587.6 476.1,587.9 478.7,588.1 481.2,588.3 483.7,589.1 486.3,588.6 488.8,588.1 491.3,588.1 493.9,587.5 496.4,587.5 498.9,588.6 501.4,588.6 504.0,588.5 506.5,587.9 509.0,588.4 511.6,588.1 514.1,588.5 516.6,588.9 519.2,588.7 521.7,588.3 524.2,588.1 526.8,588.4 529.3,588.3 531.8,588.6 534.4,589.5 536.9,588.9 539.4,588.9 541.9,588.8 544.5,589.1 547.0,588.1 549.5,589.2 552.1,588.2 554.6,589.0 557.1,588.1 559.7,588.8 562.2,588.7 564.7,588.7 567.3,588.5 569.8,588.9 572.3,589.5 574.8,588.6 577.4,588.6 579.9,588.4 582.4,587.6 585.0,587.8 587.5,587.9 590.0,587.8 592.6,587.7 595.1,587.3 597.6,586.6 600.2,586.2 602.7,584.8 605.2,586.8 607.7,585.9 610.3,586.5 612.8,585.1 615.3,585.1 617.9,584.1 620.4,583.3 622.9,583.0 625.5,585.5 628.0,583.1 630.5,582.0 633.1,582.2 635.6,583.1 638.1,581.2 640.7,582.7 643.2,583.0 645.7,582.8 648.2,580.2 650.8,579.9 653.3,579.5 655.8,581.1 658.4,580.7 660.9,581.4 663.4,583.5 666.0,579.7 668.5,583.2 671.0,580.9 673.6,581.0 676.1,581.0 678.6,583.3 681.1,583.6 683.7,582.8 686.2,583.7 688.7,581.5 691.3,582.5 693.8,583.9 696.3,583.7 698.9,584.3 701.4,582.9 703.9,583.4 706.5,581.1 709.0,581.3 711.5,583.6 714.1,585.8 716.6,583.6 719.1,582.8 721.6,582.9 724.2,582.4 726.7,583.2 729.2,582.9 731.8,583.9 734.3,584.0 736.8,583.5 739.4,583.9 741.9,582.6 744.4,584.2 747.0,584.1 749.5,585.5 752.0,585.6 754.5,582.9 757.1,583.8 759.6,583.5 762.1,582.8 764.7,585.5 767.2,585.2 769.7,584.4 772.3,583.0 774.8,584.9 777.3,583.1 779.9,583.5 782.4,583.1 784.9,584.1 787.5,584.1 790.0,581.7 792.5,583.8 795.0,583.8 797.6,583.7 800.1,584.9 802.6,584.9 805.2,586.0 807.7,583.4 810.2,583.3 812.8,582.4 815.3,583.5 817.8,582.7 820.4,585.3 822.9,584.3 825.4,584.8 827.9,584.1 830.5,583.8 833.0,581.7 835.5,583.2 838.1,585.6 840.6,583.5 843.1,582.5 845.7,583.4 848.2,582.8 850.7,582.7 853.3,583.3 855.8,585.2 858.3,582.5 860.8,579.2 863.4,579.1 865.9,580.1 868.4,580.2 871.0,580.2 873.5,579.7 876.0,579.2 878.6,578.4 881.1,577.2 883.6,577.0 886.2,575.3 888.7,577.4 891.2,580.2 893.8,576.2 896.3,572.3 898.8,575.7 901.3,572.6 903.9,570.1 906.4,573.5 908.9,575.6 911.5,568.2 914.0,567.5 916.5,567.3 919.1,570.2 921.6,563.6 924.1,572.6 926.7,571.9 929.2,565.0 931.7,557.5 934.2,563.0 936.8,558.6 939.3,553.3 941.8,561.9 944.4,553.9 946.9,549.5 949.4,546.2 952.0,541.6 954.5,536.5 957.0,536.6 959.6,537.7 962.1,536.0 964.6,541.6 967.2,529.2 969.7,533.6 972.2,519.8 974.7,526.6 977.3,525.7 979.8,533.9 982.3,529.9 984.9,510.7 987.4,524.5 989.9,534.5 992.5,497.3 995.0,516.3 997.5,532.6 1000.1,520.6 1002.6,512.7 1005.1,523.6 1007.6,513.1 1010.2,514.4 1012.7,518.4 1015.2,514.8 1017.8,524.0 1020.3,378.0 1022.8,523.2 1025.4,508.4 1027.9,511.5 1030.4,514.5 1033.0,519.8 1035.5,507.9 1038.0,511.3 1040.5,514.9 1043.1,522.1 1045.6,514.9 1048.1,517.1 1050.7,525.6 1053.2,543.1 1055.7,517.7 1058.3,516.5 1060.8,519.2 1063.3,534.0 1065.9,532.3 1068.4,533.6 1070.9,531.4 1073.5,531.7 1076.0,535.1 1078.5,522.2 1081.0,536.2 1083.6,524.6 1086.1,538.7 1088.6,533.1 1091.2,535.2 1093.7,533.0 1096.2,522.6 1098.8,535.2 1101.3,518.6 1103.8,545.6 1106.4,542.1 1108.9,529.1 1111.4,530.7 1113.9,528.8 1116.5,536.5 1119.0,541.6 1121.5,548.5 1124.1,548.5 1126.6,553.5 1129.1,540.9 1131.7,543.6 1134.2,545.3 1136.7,553.3 1139.3,555.1 1141.8,554.8 1144.3,551.5 1146.9,550.1 1149.4,559.9 1151.9,554.3 1154.4,562.7 1157.0,564.7 1159.5,558.4 1162.0,563.2 1164.6,562.3 1167.1,563.2 1169.6,559.8 1172.2,568.0 1174.7,573.2 1177.2,566.7 1179.8,566.5 1182.3,568.2 1184.8,564.8 1187.3,570.1 1189.9,571.5 1192.4,573.3 1194.9,572.2 1197.5,572.0 1200.0,570.3 1202.5,567.7 1205.1,573.1 1207.6,570.9 1210.1,580.2 1212.7,573.4 1215.2,574.6 1217.7,575.0 1220.3,575.5 1222.8,576.4 1225.3,579.0 1227.8,579.6 1230.4,576.6 1232.9,575.3 1235.4,578.1 1238.0,578.0 1240.5,578.4 1243.0,580.4 1245.6,577.9 1248.1,578.8 1250.6,578.1 1253.2,579.6 1255.7,579.9 1258.2,577.1 1260.7,579.0 1263.3,582.6 1265.8,579.6 1268.3,580.5 1270.9,578.6 1273.4,579.9 1275.9,579.0 1278.5,578.7 1281.0,580.0 1283.5,578.2 1286.1,578.8 1288.6,575.9 1291.1,575.4 1293.7,577.1 1296.2,577.4 1298.7,580.5 1301.2,578.5 1303.8,578.2 1306.3,576.5 1308.8,575.5 1311.4,573.7 1313.9,575.5 1316.4,577.3 1319.0,578.0 1321.5,575.9 1324.0,576.6 1326.6,575.0 1329.1,578.3 1331.6,575.4 1334.1,580.6 1336.7,577.9 1339.2,575.0 1341.7,576.5 1344.3,572.3 1346.8,575.4 1349.3,574.5 1351.9,577.0 1354.4,578.8 1356.9,576.0 1359.5,575.7 1362.0,577.7 1364.5,577.5 1367.0,579.7 1369.6,580.6 1372.1,580.6 1374.6,578.8 1377.2,578.5 1379.7,577.9 1382.2,579.7 1384.8,580.9 1387.3,581.6 1389.8,582.4 1392.4,582.1 1394.9,580.5 1397.4,582.4 1400.0,580.8 1402.5,583.7 1405.0,582.3 1407.5,584.6 1410.1,582.0 1412.6,582.0 1415.1,584.0 1417.7,582.3 1420.2,585.0 1422.7,586.8 1425.3,584.6 1427.8,584.0 1430.3,585.2 1432.9,586.7 1435.4,585.3 1437.9,586.2 1440.4,587.2 1443.0,586.9 1445.5,587.3 1448.0,587.1 1450.6,585.9 1453.1,586.3 1455.6,587.9 1458.2,588.7 1460.7,588.2 1463.2,587.7 1465.8,588.0 1468.3,588.7 1470.8,588.2 1473.4,588.6 1475.9,588.6 1478.4,588.5 1480.9,588.3 1483.5,588.3 1486.0,588.8 1488.5,588.1 1491.1,589.2 1493.6,589.3 1496.1,589.0 1498.7,589.2 1501.2,589.3 1503.7,589.6 1506.3,589.0 1508.8,589.4 1511.3,589.8 1513.8,589.5 1516.4,589.9 1518.9,589.5 1521.4,589.4 1524.0,589.5 1526.5,589.5 1529.0,589.6 1531.6,590.1 1534.1,589.9 1536.6,590.0 1539.2,589.8 1541.7,589.7 1544.2,590.3 1546.8,590.2 1549.3,590.5 1551.8,589.9 1554.3,590.1 1556.9,590.1 1559.4,589.8"/>
<polyline stroke="#a52a2a" points="205.3,592.5 207.9,592.5 210.4,592.5 212.9,592.5 215.4,592.5 218.0,592.5 220.5,592.5 223.0,592.5 225.6,592.5 228.1,592.5 230.6,592.5 233.2,592.5 235.7,592.5 238.2,592.5 240.8,592.5 243.3,592.5 245.8,592.5 248.3,592.5 250.9,592.5 253.4,592.5 255.9,592.5 258.5,592.5 261.0,592.5 263.5,592.5 266.1,592.5 268.6,592.5 271.1,592.5 273.7,592.5 276.2,592.5 278.7,592.5 281.2,592.5 283.8,592.5 286.3,592.5 288.8,592.5 291.4,592.5 293.9,592.5 296.4,592.5 299.0,592.5 301.5,592.5 304.0,592.5 306.6,592.5 309.1,592.5 311.6,592.5 314.2,592.5 316.7,592.5 319.2,592.5 321.7,592.5 324.3,592.5 326.8,592.5 329.3,592.5 331.9,592.4 334.4,592.3 336.9,592.2 339.5,592.1 342.0,592.2 344.5,592.0 347.1,591.8 349.6,591.8 352.1,591.7 354.6,591.5 357.2,591.1 359.7,590.9 362.2,590.1 364.8,589.2 367.3,588.5 369.8,587.2 372.4,586.8 374.9,587.0 377.4,586.8 380.0,586.5 382.5,584.3 385.0,584.2 387.6,582.3 390.1,581.5 392.6,583.9 395.1,584.8 397.7,583.4 400.2,579.3 402.7,580.9 405.3,576.8 407.8,575.5 410.3,577.5 412.9,580.6 415.4,581.3 417.9,579.8 420.5,578.8 423.0,578.2 425.5,578.0 428.0,580.0 430.6,583.4 433.1,582.9 435.6,581.1 438.2,582.2 440.7,581.5 443.2,580.8 445.8,582.0 448.3,584.3 450.8,585.8 453.4,583.2 455.9,582.6 458.4,581.7 461.0,583.6 463.5,583.3 466.0,584.9 468.5,584.6 471.1,583.4 473.6,583.0 476.1,584.1 478.7,583.0 481.2,584.4 483.7,586.6 486.3,584.9 488.8,585.6 491.3,585.3 493.9,584.8 496.4,585.0 498.9,584.7 501.4,586.7 504.0,585.9 506.5,585.9 509.0,586.1 511.6,585.1 514.1,585.9 516.6,586.3 519.2,587.7 521.7,587.4 524.2,586.4 526.8,586.9 529.3,586.4 531.8,586.5 534.4,587.5 536.9,588.7 539.4,588.2 541.9,587.6 544.5,587.4 547.0,587.2 549.5,587.3 552.1,587.9 554.6,588.7 557.1,589.0 559.7,588.8 562.2,588.2 564.7,588.5 567.3,588.2 569.8,588.6 572.3,589.5 574.8,589.3 577.4,589.0 579.9,588.5 582.4,588.6 585.0,587.8 587.5,588.3 590.0,588.8 592.6,589.6 595.1,588.3 597.6,587.5 600.2,588.2 602.7,587.2 605.2,587.2 607.7,588.3 610.3,588.6 612.8,587.3 615.3,586.8 617.9,586.9 620.4,585.9 622.9,586.5 625.5,587.7 628.0,587.5 630.5,586.3 633.1,585.9 635.6,585.0 638.1,585.0 640.7,585.9 643.2,587.1 645.7,586.1 648.2,585.9 650.8,584.9 653.3,584.5 655.8,584.7 658.4,586.4 660.9,586.7 663.4,586.3 666.0,585.7 668.5,585.7 671.0,584.4 673.6,584.9 676.1,585.7 678.6,587.3 681.1,586.4 683.7,586.5 686.2,586.0 688.7,584.2 691.3,584.4 693.8,585.1 696.3,586.4 698.9,586.5 701.4,587.0 703.9,585.1 706.5,584.8 709.0,585.0 711.5,586.8 714.1,586.6 716.6,586.3 719.1,586.6 721.6,585.8 724.2,585.2 726.7,585.5 729.2,585.5 731.8,587.3 734.3,586.7 736.8,586.4 739.4,586.6 741.9,586.1 744.4,583.9 747.0,585.7 749.5,586.6 752.0,586.4 754.5,585.5 757.1,585.6 759.6,585.8 762.1,585.3 764.7,586.7 767.2,587.3 769.7,586.4 772.3,587.3 774.8,585.6 777.3,585.0 779.9,584.5 782.4,586.2 784.9,587.5 787.5,587.7 790.0,586.6 792.5,585.4 795.0,584.2 797.6,585.7 800.1,584.9 802.6,586.8 805.2,587.0 807.7,584.9 810.2,586.8 812.8,585.0 815.3,584.6 817.8,583.9 820.4,585.6 822.9,584.9 825.4,585.3 827.9,584.1 830.5,583.4 833.0,583.6 835.5,584.1 838.1,586.1 840.6,585.8 843.1,585.4 845.7,582.7 848.2,583.7 850.7,584.3 853.3,583.1 855.8,585.1 858.3,584.3 860.8,581.9 863.4,582.4 865.9,581.8 868.4,581.6 871.0,581.6 873.5,584.1 876.0,582.8 878.6,579.0 881.1,580.2 883.6,580.5 886.2,577.1 888.7,578.5 891.2,580.9 893.8,579.9 896.3,577.9 898.8,576.5 901.3,574.4 903.9,573.9 906.4,574.0 908.9,579.6 911.5,577.7 914.0,576.5 916.5,572.3 919.1,571.1 921.6,571.9 924.1,571.3 926.7,572.0 929.2,571.8 931.7,572.2 934.2,567.2 936.8,562.9 939.3,561.9 941.8,561.5 944.4,564.8 946.9,564.0 949.4,563.0 952.0,553.8 954.5,552.2 957.0,548.5 959.6,551.5 962.1,561.9 964.6,557.8 967.2,548.5 969.7,545.8 972.2,547.8 974.7,529.1 977.3,541.6 979.8,551.0 982.3,542.2 984.9,548.6 987.4,527.1 989.9,532.6 992.5,523.7 995.0,532.4 997.5,541.3 1000.1,538.5 1002.6,532.0 1005.1,533.4 1007.6,494.4 1010.2,512.6 1012.7,506.4 1015.2,532.0 1017.8,518.9 1020.3,510.2 1022.8,498.5 1025.4,482.4 1027.9,503.8 1030.4,499.9 1033.0,523.6 1035.5,521.5 1038.0,518.0 1040.5,512.9 1043.1,511.9 1045.6,511.9 1048.1,497.8 1050.7,521.1 1053.2,528.1 1055.7,517.7 1058.3,522.9 1060.8,530.3 1063.3,524.3 1065.9,520.0 1068.4,529.4 1070.9,534.8 1073.5,534.0 1076.0,526.3 1078.5,528.0 1081.0,529.4 1083.6,527.9 1086.1,542.5 1088.6,541.0 1091.2,534.6 1093.7,529.5 1096.2,520.0 1098.8,511.9 1101.3,524.5 1103.8,526.3 1106.4,544.4 1108.9,530.6 1111.4,534.9 1113.9,529.5 1116.5,529.2 1119.0,533.6 1121.5,545.2 1124.1,551.2 1126.6,550.7 1129.1,545.4 1131.7,542.1 1134.2,545.2 1136.7,543.8 1139.3,551.6 1141.8,560.3 1144.3,551.0 1146.9,546.5 1149.4,513.8 1151.9,547.6 1154.4,552.6 1157.0,565.4 1159.5,556.1 1162.0,556.3 1164.6,556.3 1167.1,552.8 1169.6,552.3 1172.2,555.4 1174.7,564.1 1177.2,563.6 1179.8,565.0 1182.3,561.6 1184.8,559.7 1187.3,566.3 1189.9,558.4 1192.4,570.8 1194.9,571.5 1197.5,570.8 1200.0,565.1 1202.5,564.7 1205.1,565.7 1207.6,567.6 1210.1,574.4 1212.7,573.2 1215.2,570.1 1217.7,569.7 1220.3,566.7 1222.8,568.1 1225.3,569.7 1227.8,574.4 1230.4,572.3 1232.9,571.2 1235.4,570.0 1238.0,569.4 1240.5,569.8 1243.0,570.4 1245.6,573.4 1248.1,572.9 1250.6,571.6 1253.2,571.4 1255.7,570.5 1258.2,566.4 1260.7,566.7 1263.3,572.8 1265.8,574.7 1268.3,569.6 1270.9,566.3 1273.4,566.6 1275.9,562.6 1278.5,565.0 1281.0,571.8 1283.5,570.7 1286.1,562.8 1288.6,560.9 1291.1,561.6 1293.7,560.4 1296.2,557.4 1298.7,564.6 1301.2,564.6 1303.8,555.8 1306.3,557.5 1308.8,557.1 1311.4,549.9 1313.9,555.6 1316.4,561.7 1319.0,560.4 1321.5,559.3 1324.0,556.6 1326.6,551.3 1329.1,545.1 1331.6,554.8 1334.1,555.9 1336.7,557.0 1339.2,557.8 1341.7,551.3 1344.3,549.3 1346.8,553.3 1349.3,560.3 1351.9,562.0 1354.4,564.8 1356.9,557.7 1359.5,562.0 1362.0,556.3 1364.5,557.9 1367.0,562.7 1369.6,567.3 1372.1,565.3 1374.6,564.6 1377.2,564.4 1379.7,560.5 1382.2,564.8 1384.8,562.7 1387.3,569.7 1389.8,566.8 1392.4,566.8 1394.9,566.9 1397.4,566.9 1400.0,567.7 1402.5,572.5 1405.0,573.5 1407.5,574.8 1410.1,574.9 1412.6,575.6 1415.1,572.2 1417.7,574.1 1420.2,578.2 1422.7,579.9 1425.3,578.4 1427.8,579.6 1430.3,578.7 1432.9,579.4 1435.4,579.9 1437.9,579.9 1440.4,581.2 1443.0,583.6 1445.5,583.3 1448.0,582.5 1450.6,583.4 1453.1,583.1 1455.6,584.2 1458.2,587.4 1460.7,587.5 1463.2,586.9 1465.8,586.2 1468.3,586.2 1470.8,585.8 1473.4,587.4 1475.9,588.0 1478.4,588.2 1480.9,587.5 1483.5,587.2 1486.0,587.5 1488.5,587.3 1491.1,588.1 1493.6,588.7 1496.1,588.9 1498.7,588.5 1501.2,588.0 1503.7,588.2 1506.3,587.7 1508.8,588.6 1511.3,589.1 1513.8,589.2 1516.4,589.3 1518.9,588.9 1521.4,589.0 1524.0,588.9 1526.5,589.3 1529.0,589.6 1531.6,590.0 1534.1,589.4 1536.6,589.6 1539.2,589.9 1541.7,590.1 1544.2,589.9 1546.8,591.0 1549.3,590.5 1551.8,590.3 1554.3,590.4 1556.9,590.5 1559.4,590.6"/>
<polyline stroke="#000000" points="205.3,592.5 207.9,592.5 210.4,592.5 212.9,592.5 215.4,592.5 218.0,592.5 220.5,592.5 223.0,592.5 225.6,592.5 228.1,592.5 230.6,592.5 233.2,592.5 235.7,592.5 238.2,592.5 240.8,592.5 243.3,592.5 245.8,592.5 248.3,592.5 250.9,592.5 253.4,592.5 255.9,592.5 258.5,592.5 261.0,592.5 263.5,592.5 266.1,592.5 268.6,592.5 271.1,592.5 273.7,592.5 276.2,592.5 278.7,592.5 281.2,592.5 283.8,592.5 286.3,592.5 288.8,592.5 291.4,592.5 293.9,592.5 296.4,592.5 299.0,592.5 301.5,592.5 304.0,592.5 306.6,592.5 309.1,592.5 311.6,592.5 314.2,592.5 316.7,592.5 319.2,592.4 321.7,592.4 324.3,592.3 326.8,592.3 329.3,592.2 331.9,592.1 334.4,592.0 336.9,591.9 339.5,591.9 342.0,591.9 344.5,591.9 347.1,591.6 349.6,591.7 352.1,590.9 354.6,590.4 357.2,589.9 359.7,589.8 362.2,589.6 364.8,588.9 367.3,587.6 369.8,587.0 372.4,587.0 374.9,585.8 377.4,587.3 380.0,586.9 382.5,584.7 385.0,583.6 387.6,583.5 390.1,582.0 392.6,583.4 395.1,585.8 397.7,585.6 400.2,584.5 402.7,585.0 405.3,584.2 407.8,583.9 410.3,582.4 412.9,585.6 415.4,585.9 417.9,584.8 420.5,583.2 423.0,583.5 425.5,582.6 428.0,583.7 430.6,585.3 433.1,586.5 435.6,585.3 438.2,585.3 440.7,585.0 443.2,585.7 445.8,585.8 448.3,587.6 450.8,587.8 453.4,586.2 455.9,586.3 458.4,585.9 461.0,586.1 463.5,586.3 466.0,587.5 468.5,588.2 471.1,586.7 473.6,586.6 476.1,586.3 478.7,585.4 481.2,585.3 483.7,588.0 486.3,587.0 488.8,586.3 491.3,586.4 493.9,585.6 496.4,585.3 498.9,585.5 501.4,587.4 504.0,587.9 506.5,586.2 509.0,585.2 511.6,584.7 514.1,584.5 516.6,584.6 519.2,587.3 521.7,587.0 524.2,585.5 526.8,584.5 529.3,584.4 531.8,584.0 534.4,584.5 536.9,585.4 539.4,587.7 541.9,584.8 544.5,582.2 547.0,582.5 549.5,583.0 552.1,581.8 554.6,585.1 557.1,584.5 559.7,581.5 562.2,578.9 564.7,577.4 567.3,574.9 569.8,573.6 572.3,577.6 574.8,578.2 577.4,572.2 579.9,568.0 582.4,565.9 585.0,564.1 587.5,563.4 590.0,570.7 592.6,568.5 595.1,557.5 597.6,551.7 600.2,544.9 602.7,513.8 605.2,538.8 607.7,550.5 610.3,553.8 612.8,541.0 615.3,526.9 617.9,525.6 620.4,515.1 622.9,498.1 625.5,533.8 628.0,534.8 630.5,513.6 633.1,511.2 635.6,503.8 638.1,495.2 640.7,498.7 643.2,465.8 645.7,522.6 648.2,505.8 650.8,493.6 653.3,477.4 655.8,484.8 658.4,489.1 660.9,527.4 663.4,508.2 666.0,497.7 668.5,502.3 671.0,505.5 673.6,497.0 676.1,502.2 678.6,539.4 681.1,530.9 683.7,526.0 686.2,510.8 688.7,503.5 691.3,504.8 693.8,522.9 696.3,529.9 698.9,535.7 701.4,531.2 703.9,523.6 706.5,517.7 709.0,525.6 711.5,529.9 714.1,549.0 716.6,545.8 719.1,549.6 721.6,534.5 724.2,541.5 726.7,536.1 729.2,548.7 731.8,560.0 734.3,561.7 736.8,552.2 739.4,556.9 741.9,551.2 744.4,553.9 747.0,552.5 749.5,565.9 752.0,565.7 754.5,562.0 757.1,555.8 759.6,559.3 762.1,558.6 764.7,557.3 767.2,569.4 769.7,569.7 772.3,529.6 774.8,564.4 777.3,567.4 779.9,562.9 782.4,566.0 784.9,574.5 787.5,575.3 790.0,566.9 792.5,566.2 795.0,568.3 797.6,562.6 800.1,568.3 802.6,574.2 805.2,574.2 807.7,572.5 810.2,571.4 812.8,569.0 815.3,565.8 817.8,567.7 820.4,577.2 822.9,574.1 825.4,572.2 827.9,569.9 830.5,569.5 833.0,568.6 835.5,572.0 838.1,577.4 840.6,577.8 843.1,574.1 845.7,571.3 848.2,572.8 850.7,568.2 853.3,572.0 855.8,576.9 858.3,575.5 860.8,572.0 863.4,570.9 865.9,570.4 868.4,569.4 871.0,593.3 873.5,545.3 876.0,573.2 878.6,567.7 881.1,567.5 883.6,566.1 886.2,563.9 888.7,564.1 891.2,572.0 893.8,571.1 896.3,562.6 898.8,566.5 901.3,563.6 903.9,561.1 906.4,558.6 908.9,564.9 911.5,568.4 914.0,560.0 916.5,558.0 919.1,554.5 921.6,554.6 924.1,554.7 926.7,563.1 929.2,560.4 931.7,550.1 934.2,556.1 936.8,546.4 939.3,545.4 941.8,543.9 944.4,553.6 946.9,554.7 949.4,545.8 952.0,545.4 954.5,543.1 957.0,528.1 959.6,530.4 962.1,550.5 964.6,542.1 967.2,532.7 969.7,538.3 972.2,518.8 974.7,522.9 977.3,516.7 979.8,541.2 982.3,542.9 984.9,534.7 987.4,522.4 989.9,567.7 992.5,449.3 995.0,526.4 997.5,525.0 1000.1,527.9 1002.6,520.9 1005.1,519.4 1007.6,517.4 1010.2,516.2 1012.7,508.1 1015.2,522.5 1017.8,535.9 1020.3,516.0 1022.8,509.5 1025.4,503.5 1027.9,496.1 1030.4,491.0 1033.0,526.7 1035.5,520.0 1038.0,503.4 1040.5,503.2 1043.1,496.6 1045.6,500.3 1048.1,489.9 1050.7,521.4 1053.2,523.5 1055.7,502.2 1058.3,498.7 1060.8,493.0 1063.3,580.1 1065.9,460.0 1068.4,510.7 1070.9,507.3 1073.5,502.5 1076.0,495.8 1078.5,450.9 1081.0,575.9 1083.6,330.9 1086.1,497.9 1088.6,492.5 1091.2,488.3 1093.7,467.6 1096.2,427.7 1098.8,449.8 1101.3,445.8 1103.8,480.0 1106.4,490.8 1108.9,480.9 1111.4,471.7 1113.9,473.7 1116.5,453.4 1119.0,476.2 1121.5,508.8 1124.1,504.9 1126.6,479.8 1129.1,494.9 1131.7,486.5 1134.2,483.7 1136.7,491.3 1139.3,520.0 1141.8,524.9 1144.3,502.9 1146.9,499.4 1149.4,496.8 1151.9,503.2 1154.4,468.3 1157.0,521.5 1159.5,530.0 1162.0,514.4 1164.6,502.4 1167.1,520.6 1169.6,508.5 1172.2,522.8 1174.7,542.3 1177.2,540.4 1179.8,528.0 1182.3,526.8 1184.8,529.8 1187.3,530.5 1189.9,531.5 1192.4,544.7 1194.9,550.4 1197.5,544.9 1200.0,529.8 1202.5,537.6 1205.1,535.2 1207.6,540.6 1210.1,553.3 1212.7,552.9 1215.2,546.5 1217.7,540.1 1220.3,543.8 1222.8,543.9 1225.3,536.1 1227.8,554.2 1230.4,553.2 1232.9,545.1 1235.4,543.9 1238.0,543.7 1240.5,547.8 1243.0,550.8 1245.6,554.2 1248.1,556.7 1250.6,550.7 1253.2,554.1 1255.7,553.8 1258.2,550.3 1260.7,553.3 1263.3,559.7 1265.8,564.2 1268.3,551.0 1270.9,553.3 1273.4,550.7 1275.9,545.4 1278.5,548.6 1281.0,561.3 1283.5,557.4 1286.1,547.5 1288.6,552.6 1291.1,547.3 1293.7,548.1 1296.2,552.5 1298.7,555.0 1301.2,555.6 1303.8,547.6 1306.3,545.4 1308.8,549.9 1311.4,541.9 1313.9,545.4 1316.4,557.2 1319.0,557.6 1321.5,543.3 1324.0,542.0 1326.6,530.9 1329.1,533.7 1331.6,543.8 1334.1,546.5 1336.7,546.9 1339.2,516.7 1341.7,544.0 1344.3,531.6 1346.8,541.1 1349.3,539.9 1351.9,557.8 1354.4,557.2 1356.9,551.3 1359.5,539.4 1362.0,537.7 1364.5,542.5 1367.0,548.7 1369.6,556.0 1372.1,556.6 1374.6,556.2 1377.2,552.8 1379.7,548.7 1382.2,546.5 1384.8,551.2 1387.3,559.9 1389.8,565.7 1392.4,563.7 1394.9,554.9 1397.4,556.8 1400.0,555.0 1402.5,558.1 1405.0,564.5 1407.5,568.6 1410.1,559.9 1412.6,561.3 1415.1,559.6 1417.7,559.6 1420.2,561.1 1422.7,569.2 1425.3,574.3 1427.8,568.8 1430.3,563.3 1432.9,565.1 1435.4,565.0 1437.9,567.1 1440.4,574.7 1443.0,575.8 1445.5,573.0 1448.0,569.5 1450.6,570.3 1453.1,568.6 1455.6,572.0 1458.2,575.1 1460.7,577.9 1463.2,542.0 1465.8,574.1 1468.3,575.7 1470.8,567.7 1473.4,592.5 1475.9,592.5 1478.4,592.5 1480.9,592.5 1483.5,592.5 1486.0,592.5 1488.5,496.9 1491.1,592.5 1493.6,592.5 1496.1,592.5 1498.7,592.5 1501.2,592.5 1503.7,592.5 1506.3,508.0 1508.8,592.5 1511.3,592.5 1513.8,592.5 1516.4,592.5 1518.9,592.5 1521.4,592.5 1524.0,500.2 1526.5,592.5 1529.0,592.5 1531.6,592.5 1534.1,592.5 1536.6,592.5 1539.2,592.5 1541.7,461.7 1544.2,592.5 1546.8,592.5 1549.3,592.5 1551.8,592.5 1554.3,592.5 1556.9,592.5 1559.4,394.6"/>
<polyline stroke="#ff00ff" points="205.3,592.5 207.9,592.5 210.4,592.5 212.9,592.5 215.4,592.5 218.0,592.5 220.5,592.5 223.0,592.5 225.6,592.5 228.1,592.5 230.6,592.5 233.2,592.5 235.7,592.5 238.2,592.5 240.8,592.5 243.3,592.5 245.8,592.5 248.3,592.5 250.9,592.5 253.4,592.5 255.9,592.5 258.5,592.5 261.0,592.5 263.5,592.5 266.1,592.5 268.6,592.5 271.1,592.5 273.7,592.5 276.2,592.5 278.7,592.5 281.2,592.5 283.8,592.5 286.3,592.5 288.8,592.5 291.4,592.5 293.9,592.5 296.4,592.5 299.0,592.5 301.5,592.5 304.0,592.5 306.6,592.5 309.1,592.5 311.6,592.5 314.2,592.5 316.7,592.5 319.2,592.5 321.7,592.4 324.3,592.4 326.8,592.3 329.3,592.2 331.9,592.1 334.4,592.1 336.9,592.0 339.5,592.0 342.0,592.1 344.5,592.0 347.1,591.8 349.6,591.7 352.1,591.5 354.6,591.7 357.2,591.3 359.7,591.4 362.2,590.9 364.8,590.4 367.3,589.3 369.8,589.0 372.4,589.4 374.9,589.3 377.4,590.5 380.0,589.3 382.5,587.6 385.0,586.3 387.6,586.1 390.1,586.9 392.6,586.1 395.1,588.2 397.7,588.2 400.2,586.5 402.7,587.0 405.3,585.7 407.8,586.6 410.3,587.1 412.9,588.6 415.4,588.0 417.9,586.2 420.5,585.6 423.0,586.2 425.5,585.3 428.0,586.6 430.6,589.4 433.1,588.1 435.6,585.3 438.2,586.1 440.7,586.6 443.2,584.9 445.8,585.1 448.3,588.8 450.8,588.6 453.4,586.6 455.9,584.1 458.4,586.1 461.0,585.6 463.5,586.4 466.0,590.0 468.5,589.3 471.1,587.8 473.6,586.0 476.1,586.2 478.7,585.1 481.2,586.9 483.7,588.5 486.3,588.5 488.8,586.8 491.3,584.7 493.9,586.1 496.4,585.3 498.9,585.8 501.4,589.2 504.0,588.1 506.5,587.2 509.0,586.2 511.6,586.2 514.1,586.3 516.6,587.0 519.2,587.7 521.7,588.7 524.2,586.4 526.8,585.1 529.3,585.9 531.8,585.6 534.4,585.7 536.9,588.0 539.4,587.4 541.9,587.8 544.5,584.5 547.0,585.8 549.5,587.0 552.1,586.4 554.6,589.3 557.1,587.8 559.7,587.0 562.2,585.6 564.7,584.3 567.3,584.3 569.8,585.5 572.3,587.6 574.8,587.1 577.4,584.0 579.9,582.4 582.4,581.9 585.0,579.7 587.5,583.2 590.0,585.3 592.6,583.4 595.1,579.9 597.6,578.0 600.2,577.1 602.7,574.6 605.2,572.3 607.7,580.8 610.3,579.6 612.8,571.3 615.3,569.3 617.9,573.2 620.4,566.2 622.9,569.0 625.5,577.8 628.0,572.6 630.5,566.3 633.1,564.6 635.6,569.4 638.1,567.1 640.7,562.8 643.2,573.6 645.7,570.3 648.2,562.3 650.8,561.4 653.3,564.0 655.8,563.2 658.4,561.5 660.9,576.3 663.4,567.7 666.0,566.8 668.5,565.2 671.0,559.1 673.6,565.3 676.1,554.6 678.6,575.8 681.1,571.2 683.7,563.1 686.2,562.0 688.7,565.6 691.3,566.1 693.8,558.1 696.3,568.6 698.9,563.5 701.4,568.4 703.9,557.9 706.5,560.2 709.0,557.3 711.5,564.6 714.1,570.8 716.6,569.3 719.1,562.7 721.6,557.7 724.2,563.9 726.7,559.1 729.2,568.8 731.8,571.2 734.3,583.9 736.8,569.6 739.4,570.1 741.9,568.6 744.4,566.2 747.0,568.9 749.5,578.4 752.0,573.8 754.5,576.2 757.1,572.6 759.6,567.2 762.1,570.4 764.7,577.8 767.2,579.2 769.7,582.3 772.3,571.1 774.8,570.3 777.3,574.3 779.9,570.7 782.4,576.8 784.9,579.5 787.5,579.9 790.0,576.9 792.5,578.0 795.0,576.1 797.6,580.2 800.1,578.3 802.6,586.2 805.2,580.4 807.7,580.4 810.2,581.6 812.8,576.7 815.3,577.3 817.8,579.8 820.4,580.5 822.9,582.4 825.4,580.0 827.9,579.9 830.5,583.6 833.0,578.6 835.5,579.0 838.1,585.6 840.6,586.5 843.1,581.4 845.7,582.7 848.2,580.6 850.7,579.4 853.3,579.1 855.8,584.7 858.3,584.4 860.8,580.2 863.4,578.0 865.9,580.3 868.4,581.5 871.0,581.7 873.5,586.5 876.0,585.5 878.6,580.8 881.1,578.7 883.6,578.9 886.2,578.9 888.7,580.3 891.2,583.5 893.8,582.2 896.3,578.5 898.8,575.7 901.3,578.4 903.9,578.2 906.4,575.8 908.9,583.1 911.5,582.1 914.0,579.2 916.5,575.3 919.1,577.5 921.6,578.4 924.1,577.6 926.7,583.5 929.2,580.2 931.7,327.8 934.2,574.1 936.8,574.2 939.3,572.4 941.8,575.2 944.4,577.4 946.9,582.3 949.4,573.7 952.0,571.7 954.5,567.5 957.0,568.5 959.6,568.2 962.1,578.2 964.6,578.1 967.2,571.9 969.7,566.2 972.2,566.2 974.7,563.0 977.3,564.2 979.8,571.4 982.3,573.8 984.9,567.7 987.4,565.4 989.9,561.1 992.5,559.6 995.0,555.5 997.5,572.2 1000.1,565.0 1002.6,555.4 1005.1,561.2 1007.6,549.7 1010.2,547.7 1012.7,547.0 1015.2,566.0 1017.8,558.2 1020.3,551.7 1022.8,542.6 1025.4,539.9 1027.9,528.0 1030.4,542.5 1033.0,552.5 1035.5,555.5 1038.0,544.3 1040.5,531.0 1043.1,526.8 1045.6,535.1 1048.1,528.5 1050.7,558.5 1053.2,557.1 1055.7,530.7 1058.3,526.6 1060.8,531.4 1063.3,535.7 1065.9,526.4 1068.4,547.3 1070.9,550.1 1073.5,524.8 1076.0,530.9 1078.5,494.8 1081.0,512.6 1083.6,516.2 1086.1,548.8 1088.6,537.9 1091.2,512.6 1093.7,491.7 1096.2,497.0 1098.8,482.4 1101.3,512.9 1103.8,528.5 1106.4,523.8 1108.9,518.8 1111.4,501.2 1113.9,506.5 1116.5,511.8 1119.0,530.4 1121.5,531.2 1124.1,560.9 1126.6,525.3 1129.1,526.0 1131.7,516.6 1134.2,530.7 1136.7,533.2 1139.3,551.2 1141.8,551.4 1144.3,543.6 1146.9,531.9 1149.4,535.5 1151.9,533.8 1154.4,547.7 1157.0,562.9 1159.5,564.2 1162.0,554.9 1164.6,545.6 1167.1,545.9 1169.6,542.1 1172.2,554.5 1174.7,565.7 1177.2,561.7 1179.8,557.7 1182.3,554.1 1184.8,554.7 1187.3,559.1 1189.9,563.5 1192.4,567.4 1194.9,570.6 1197.5,563.6 1200.0,565.4 1202.5,561.6 1205.1,559.0 1207.6,569.5 1210.1,578.4 1212.7,571.7 1215.2,564.1 1217.7,561.9 1220.3,568.6 1222.8,566.0 1225.3,572.0 1227.8,576.9 1230.4,578.9 1232.9,571.8 1235.4,567.3 1238.0,570.2 1240.5,572.1 1243.0,573.2 1245.6,579.8 1248.1,581.2 1250.6,574.9 1253.2,572.6 1255.7,571.2 1258.2,578.9 1260.7,578.8 1263.3,584.7 1265.8,580.6 1268.3,573.6 1270.9,576.2 1273.4,576.4 1275.9,574.7 1278.5,582.2 1281.0,583.4 1283.5,588.1 1286.1,578.4 1288.6,578.2 1291.1,578.2 1293.7,576.9 1296.2,579.6 1298.7,581.7 1301.2,583.2 1303.8,578.8 1306.3,574.0 1308.8,578.9 1311.4,576.7 1313.9,580.5 1316.4,581.9 1319.0,581.8 1321.5,579.4 1324.0,576.6 1326.6,575.6 1329.1,576.0 1331.6,579.1 1334.1,583.9 1336.7,581.6 1339.2,582.0 1341.7,579.2 1344.3,577.4 1346.8,577.5 1349.3,576.6 1351.9,581.5 1354.4,583.3 1356.9,579.8 1359.5,581.2 1362.0,579.7 1364.5,579.2 1367.0,581.0 1369.6,584.9 1372.1,583.8 1374.6,582.8 1377.2,581.3 1379.7,583.0 1382.2,579.4 1384.8,583.2 1387.3,587.9 1389.8,584.6 1392.4,583.2 1394.9,581.0 1397.4,582.8 1400.0,580.4 1402.5,582.8 1405.0,586.7 1407.5,586.7 1410.1,584.8 1412.6,583.3 1415.1,582.5 1417.7,585.0 1420.2,586.3 1422.7,587.5 1425.3,587.0 1427.8,587.3 1430.3,586.2 1432.9,586.6 1435.4,585.6 1437.9,586.3 1440.4,589.3 1443.0,589.5 1445.5,587.0 1448.0,588.3 1450.6,586.8 1453.1,587.5 1455.6,586.9 1458.2,589.2 1460.7,589.9 1463.2,588.8 1465.8,588.4 1468.3,588.6 1470.8,588.2 1473.4,588.1 1475.9,590.7 1478.4,589.9 1480.9,588.0 1483.5,588.0 1486.0,588.7 1488.5,588.7 1491.1,589.0 1493.6,590.7 1496.1,589.3 1498.7,588.8 1501.2,588.7 1503.7,589.1 1506.3,588.6 1508.8,588.9 1511.3,589.3 1513.8,590.1 1516.4,588.8 1518.9,588.0 1521.4,588.2 1524.0,588.6 1526.5,589.7 1529.0,589.5 1531.6,589.7 1534.1,589.1 1536.6,588.6 1539.2,589.0 1541.7,589.0 1544.2,589.5 1546.8,589.9 1549.3,589.8 1551.8,588.9 1554.3,588.3 1556.9,588.4 1559.4,588.6"/>
<polyline stroke="#00ff00" points="205.3,592.5 207.9,592.5 210.4,592.5 212.9,592.5 215.4,592.5 218.0,592.5 220.5,592.5 223.0,592.5 225.6,592.5 228.1,592.5 230.6,592.5 233.2,592.5 235.7,592.5 238.2,592.5 240.8,592.5 243.3,592.5 245.8,592.5 248.3,592.5 250.9,592.5 253.4,592.5 255.9,592.5 258.5,592.5 261.0,592.5 263.5,592.5 266.1,592.5 268.6,592.5 271.1,592.5 273.7,592.5 276.2,592.5 278.7,592.5 281.2,592.5 283.8,592.5 286.3,592.5 288.8,592.5 291.4,592.5 293.9,592.5 296.4,592.5 299.0,592.5 301.5,592.5 304.0,592.5 306.6,592.5 309.1,592.5 311.6,592.5 314.2,592.5 316.7,592.5 319.2,592.5 321.7,592.5 324.3,592.5 326.8,592.4 329.3,592.4 331.9,592.3 334.4,592.2 336.9,592.1 339.5,592.0 342.0,592.1 344.5,592.0 347.1,591.9 349.6,591.8 352.1,591.7 354.6,591.5 357.2,591.1 359.7,590.9 362.2,590.3 364.8,589.3 367.3,588.9 369.8,588.3 372.4,587.4 374.9,586.7 377.4,586.6 380.0,587.2 382.5,585.8 385.0,584.8 387.6,584.1 390.1,583.7 392.6,583.2 395.1,584.7 397.7,584.0 400.2,584.9 402.7,581.3 405.3,580.5 407.8,579.7 410.3,579.2 412.9,581.7 415.4,584.1 417.9,581.9 420.5,580.2 423.0,580.2 425.5,579.9 428.0,578.8 430.6,580.7 433.1,582.0 435.6,580.6 438.2,578.9 440.7,577.2 443.2,575.2 445.8,573.8 448.3,579.3 450.8,577.9 453.4,573.8 455.9,573.1 458.4,571.1 461.0,568.3 463.5,572.3 466.0,576.2 468.5,577.9 471.1,576.7 473.6,572.2 476.1,569.9 478.7,571.0 481.2,572.4 483.7,574.3 486.3,575.1 488.8,558.3 491.3,576.2 493.9,573.0 496.4,575.1 498.9,572.3 501.4,577.2 504.0,578.0 506.5,574.2 509.0,572.9 511.6,573.3 514.1,573.4 516.6,574.9 519.2,579.2 521.7,579.8 524.2,577.4 526.8,579.5 529.3,578.9 531.8,578.0 534.4,578.6 536.9,581.3 539.4,583.9 541.9,583.0 544.5,582.5 547.0,582.8 549.5,581.8 552.1,583.1 554.6,584.1 557.1,585.2 559.7,585.9 562.2,585.0 564.7,585.0 567.3,585.3 569.8,585.9 572.3,586.7 574.8,588.0 577.4,588.2 579.9,587.2 582.4,585.9 585.0,585.0 587.5,586.6 590.0,587.3 592.6,587.5 595.1,587.6 597.6,586.1 600.2,585.7 602.7,585.1 605.2,584.4 607.7,586.8 610.3,586.5 612.8,586.1 615.3,586.0 617.9,585.3 620.4,583.6 622.9,584.2 625.5,585.7 628.0,586.6 630.5,584.9 633.1,584.1 635.6,582.2 638.1,582.0 640.7,582.7 643.2,584.4 645.7,584.9 648.2,584.7 650.8,582.9 653.3,582.0 655.8,581.0 658.4,580.9 660.9,583.2 663.4,584.2 666.0,582.4 668.5,580.5 671.0,581.4 673.6,579.5 676.1,579.8 678.6,581.7 681.1,582.2 683.7,581.9 686.2,580.4 688.7,577.6 691.3,576.6 693.8,580.1 696.3,583.4 698.9,581.0 701.4,581.2 703.9,579.4 706.5,579.2 709.0,576.2 711.5,577.1 714.1,580.2 716.6,579.2 719.1,576.5 721.6,575.7 724.2,574.6 726.7,575.3 729.2,574.7 731.8,578.4 734.3,577.8 736.8,577.6 739.4,576.5 741.9,574.4 744.4,575.0 747.0,573.9 749.5,576.1 752.0,579.2 754.5,577.1 757.1,578.0 759.6,573.3 762.1,572.4 764.7,575.6 767.2,575.3 769.7,578.2 772.3,579.6 774.8,577.3 777.3,573.2 779.9,545.3 782.4,573.2 784.9,579.8 787.5,579.0 790.0,576.9 792.5,577.3 795.0,574.4 797.6,574.9 800.1,575.1 802.6,578.3 805.2,577.0 807.7,580.3 810.2,576.1 812.8,574.0 815.3,575.8 817.8,575.1 820.4,575.4 822.9,577.7 825.4,581.6 827.9,576.2 830.5,576.5 833.0,572.8 835.5,574.9 838.1,577.9 840.6,579.1 843.1,576.5 845.7,575.4 848.2,574.3 850.7,571.7 853.3,571.3 855.8,576.4 858.3,574.1 860.8,576.7 863.4,570.5 865.9,569.4 868.4,564.2 871.0,568.6 873.5,572.3 876.0,574.2 878.6,565.2 881.1,563.8 883.6,563.8 886.2,559.3 888.7,561.3 891.2,560.6 893.8,564.2 896.3,567.6 898.8,556.1 901.3,549.0 903.9,547.4 906.4,546.2 908.9,554.8 911.5,554.8 914.0,550.6 916.5,546.8 919.1,536.7 921.6,532.4 924.1,534.3 926.7,546.4 929.2,546.5 931.7,531.7 934.2,514.6 936.8,520.7 939.3,498.2 941.8,487.0 944.4,504.8 946.9,518.8 949.4,495.0 952.0,497.8 954.5,483.8 957.0,464.2 959.6,479.1 962.1,500.6 964.6,519.3 967.2,509.5 969.7,500.2 972.2,470.8 974.7,493.7 977.3,479.8 979.8,511.1 982.3,519.7 984.9,515.7 987.4,497.1 989.9,485.7 992.5,495.3 995.0,488.9 997.5,507.9 1000.1,516.0 1002.6,519.1 1005.1,521.2 1007.6,501.8 1010.2,504.4 1012.7,506.1 1015.2,534.9 1017.8,530.6 1020.3,523.7 1022.8,522.1 1025.4,509.2 1027.9,499.0 1030.4,513.0 1033.0,533.9 1035.5,523.2 1038.0,543.9 1040.5,531.2 1043.1,520.6 1045.6,523.4 1048.1,536.5 1050.7,538.6 1053.2,540.1 1055.7,544.5 1058.3,528.6 1060.8,528.5 1063.3,523.1 1065.9,538.6 1068.4,544.2 1070.9,541.4 1073.5,537.3 1076.0,534.7 1078.5,536.1 1081.0,533.2 1083.6,537.8 1086.1,540.2 1088.6,549.6 1091.2,541.6 1093.7,543.2 1096.2,534.1 1098.8,513.0 1101.3,527.7 1103.8,541.0 1106.4,556.1 1108.9,545.7 1111.4,533.4 1113.9,544.8 1116.5,547.2 1119.0,543.4 1121.5,555.0 1124.1,557.5 1126.6,559.4 1129.1,555.9 1131.7,553.2 1134.2,546.7 1136.7,552.3 1139.3,558.6 1141.8,566.8 1144.3,561.6 1146.9,561.6 1149.4,558.9 1151.9,556.7 1154.4,561.8 1157.0,569.5 1159.5,574.6 1162.0,570.4 1164.6,566.8 1167.1,568.0 1169.6,566.4 1172.2,571.3 1174.7,575.6 1177.2,574.5 1179.8,572.6 1182.3,573.4 1184.8,574.1 1187.3,571.6 1189.9,574.8 1192.4,577.0 1194.9,575.4 1197.5,577.0 1200.0,576.1 1202.5,573.7 1205.1,575.0 1207.6,575.5 1210.1,578.7 1212.7,579.4 1215.2,580.8 1217.7,576.7 1220.3,575.4 1222.8,578.2 1225.3,579.6 1227.8,580.5 1230.4,578.8 1232.9,579.7 1235.4,577.4 1238.0,576.4 1240.5,575.3 1243.0,577.8 1245.6,580.6 1248.1,580.4 1250.6,579.4 1253.2,578.0 1255.7,577.1 1258.2,577.3 1260.7,576.5 1263.3,579.8 1265.8,580.0 1268.3,582.6 1270.9,576.5 1273.4,578.7 1275.9,574.1 1278.5,575.4 1281.0,577.0 1283.5,578.2 1286.1,576.5 1288.6,573.2 1291.1,570.8 1293.7,570.8 1296.2,574.1 1298.7,574.6 1301.2,573.1 1303.8,573.7 1306.3,568.5 1308.8,567.5 1311.4,566.7 1313.9,563.4 1316.4,566.4 1319.0,570.7 1321.5,568.7 1324.0,563.3 1326.6,565.4 1329.1,562.4 1331.6,558.8 1334.1,564.9 1336.7,569.7 1339.2,569.2 1341.7,564.2 1344.3,566.2 1346.8,563.2 1349.3,564.4 1351.9,574.0 1354.4,569.4 1356.9,568.1 1359.5,565.3 1362.0,568.7 1364.5,567.5 1367.0,568.3 1369.6,573.7 1372.1,569.2 1374.6,573.7 1377.2,570.7 1379.7,568.5 1382.2,567.4 1384.8,567.3 1387.3,575.6 1389.8,574.0 1392.4,574.6 1394.9,575.2 1397.4,572.4 1400.0,574.3 1402.5,571.6 1405.0,578.2 1407.5,577.3 1410.1,576.7 1412.6,578.0 1415.1,577.8 1417.7,576.5 1420.2,579.0 1422.7,579.7 1425.3,581.5 1427.8,582.2 1430.3,581.3 1432.9,579.7 1435.4,581.5 1437.9,580.0 1440.4,584.1 1443.0,584.5 1445.5,584.9 1448.0,582.8 1450.6,583.2 1453.1,583.1 1455.6,584.3 1458.2,586.3 1460.7,586.2 1463.2,586.8 1465.8,586.6 1468.3,586.4 1470.8,586.4 1473.4,587.1 1475.9,588.3 1478.4,589.2 1480.9,588.0 1483.5,588.9 1486.0,589.1 1488.5,588.8 1491.1,588.5 1493.6,589.5 1496.1,590.2 1498.7,590.1 1501.2,589.9 1503.7,590.1 1506.3,589.7 1508.8,589.7 1511.3,589.9 1513.8,590.5 1516.4,590.5 1518.9,590.2 1521.4,589.6 1524.0,589.5 1526.5,589.6 1529.0,590.0 1531.6,590.2 1534.1,590.3 1536.6,589.6 1539.2,589.4 1541.7,589.2 1544.2,589.2 1546.8,590.2 1549.3,590.5 1551.8,590.3 1554.3,589.1 1556.9,589.6 1559.4,589.1"/>
<polyline stroke="#808080" points="205.3,592.5 207.9,592.5 210.4,592.5 212.9,592.5 215.4,592.5 218.0,592.5 220.5,592.5 223.0,592.5 225.6,592.5 228.1,592.5 230.6,592.5 233.2,592.5 235.7,592.5 238.2,592.5 240.8,592.5 243.3,592.5 245.8,592.5 248.3,592.5 250.9,592.5 253.4,592.5 255.9,592.5 258.5,592.5 261.0,592.5 263.5,592.5 266.1,592.5 268.6,592.5 271.1,592.5 273.7,592.5 276.2,592.5 278.7,592.5 281.2,592.5 283.8,592.5 286.3,592.5 288.8,592.5 291.4,592.5 293.9,592.5 296.4,592.5 299.0,592.5 301.5,592.5 304.0,592.5 306.6,592.5 309.1,592.5 311.6,592.5 314.2,592.5 316.7,592.5 319.2,592.5 321.7,592.5 324.3,592.5 326.8,592.5 329.3,592.4 331.9,592.4 334.4,592.4 336.9,592.3 339.5,592.3 342.0,592.3 344.5,592.2 347.1,592.2 349.6,592.1 352.1,592.0 354.6,591.9 357.2,592.0 359.7,591.9 362.2,591.9 364.8,591.8 367.3,591.4 369.8,591.4 372.4,591.1 374.9,590.9 377.4,591.6 380.0,591.4 382.5,591.3 385.0,590.9 387.6,590.5 390.1,590.5 392.6,590.4 395.1,590.8 397.7,590.9 400.2,590.6 402.7,590.2 405.3,590.3 407.8,590.1 410.3,590.2 412.9,590.4 415.4,590.9 417.9,590.1 420.5,589.8 423.0,589.8 425.5,589.8 428.0,589.7 430.6,590.2 433.1,590.7 435.6,589.5 438.2,588.5 440.7,589.7 443.2,589.5 445.8,588.9 448.3,589.4 450.8,590.5 453.4,590.5 455.9,589.0 458.4,589.6 461.0,588.1 463.5,588.8 466.0,589.2 468.5,589.5 471.1,589.5 473.6,588.7 476.1,588.3 478.7,587.4 481.2,587.9 483.7,588.7 486.3,589.2 488.8,589.1 491.3,588.4 493.9,587.5 496.4,586.3 498.9,586.4 501.4,587.8 504.0,587.2 506.5,587.3 509.0,586.8 511.6,586.4 514.1,586.6 516.6,585.5 519.2,587.0 521.7,588.4 524.2,587.8 526.8,584.2 529.3,584.7 531.8,584.1 534.4,584.2 536.9,586.1 539.4,585.8 541.9,584.8 544.5,584.7 547.0,583.1 549.5,582.1 552.1,583.4 554.6,584.3 557.1,585.9 559.7,584.1 562.2,583.6 564.7,580.9 567.3,582.5 569.8,579.5 572.3,583.7 574.8,585.1 577.4,584.7 579.9,581.0 582.4,581.8 585.0,577.8 587.5,578.2 590.0,581.3 592.6,584.8 595.1,582.3 597.6,581.4 600.2,581.7 602.7,577.8 605.2,574.9 607.7,581.4 610.3,580.3 612.8,579.0 615.3,580.4 617.9,577.9 620.4,576.3 622.9,575.7 625.5,581.1 628.0,579.9 630.5,579.8 633.1,575.4 635.6,578.4 638.1,575.9 640.7,575.5 643.2,578.2 645.7,577.4 648.2,579.4 650.8,570.0 653.3,575.5 655.8,572.2 658.4,572.0 660.9,575.6 663.4,579.4 666.0,580.3 668.5,577.0 671.0,574.0 673.6,574.7 676.1,574.1 678.6,577.4 681.1,581.5 683.7,581.2 686.2,575.0 688.7,577.2 691.3,578.8 693.8,573.2 696.3,580.8 698.9,582.4 701.4,579.0 703.9,580.5 706.5,579.1 709.0,575.9 711.5,579.0 714.1,576.8 716.6,581.7 719.1,577.7 721.6,579.8 724.2,579.0 726.7,579.9 729.2,579.5 731.8,582.3 734.3,582.6 736.8,581.1 739.4,582.2 741.9,580.5 744.4,581.8 747.0,576.6 749.5,581.3 752.0,582.3 754.5,582.0 757.1,578.5 759.6,578.4 762.1,577.2 764.7,578.6 767.2,581.1 769.7,582.1 772.3,584.3 774.8,578.3 777.3,581.3 779.9,580.2 782.4,578.1 784.9,581.6 787.5,581.7 790.0,580.4 792.5,578.7 795.0,578.6 797.6,580.5 800.1,577.9 802.6,583.9 805.2,584.0 807.7,582.6 810.2,582.3 812.8,581.1 815.3,580.8 817.8,578.4 820.4,585.4 822.9,581.3 825.4,581.0 827.9,580.7 830.5,578.5 833.0,580.1 835.5,576.8 838.1,576.3 840.6,583.2 843.1,579.1 845.7,579.2 848.2,578.2 850.7,577.7 853.3,576.9 855.8,581.3 858.3,582.6 860.8,576.6 863.4,577.1 865.9,574.3 868.4,574.0 871.0,573.3 873.5,580.2 876.0,580.4 878.6,576.4 881.1,572.8 883.6,575.4 886.2,573.6 888.7,574.4 891.2,574.3 893.8,576.5 896.3,576.5 898.8,575.1 901.3,571.1 903.9,571.1 906.4,572.7 908.9,574.0 911.5,577.9 914.0,573.5 916.5,571.2 919.1,572.3 921.6,568.6 924.1,569.7 926.7,575.5 929.2,577.5 931.7,578.5 934.2,573.8 936.8,567.8 939.3,564.5 941.8,568.9 944.4,571.1 946.9,572.3 949.4,570.0 952.0,567.1 954.5,562.4 957.0,562.5 959.6,566.6 962.1,568.0 964.6,578.0 967.2,570.1 969.7,564.9 972.2,560.0 974.7,561.4 977.3,556.8 979.8,560.4 982.3,570.2 984.9,567.7 987.4,559.5 989.9,592.5 992.5,534.5 995.0,551.4 997.5,565.7 1000.1,560.3 1002.6,557.0 1005.1,550.3 1007.6,548.3 1010.2,548.5 1012.7,543.8 1015.2,553.3 1017.8,563.7 1020.3,556.1 1022.8,544.8 1025.4,541.7 1027.9,542.3 1030.4,537.9 1033.0,548.6 1035.5,550.1 1038.0,549.1 1040.5,540.0 1043.1,530.1 1045.6,533.4 1048.1,531.4 1050.7,551.8 1053.2,566.6 1055.7,548.3 1058.3,532.5 1060.8,592.5 1063.3,590.0 1065.9,431.9 1068.4,532.2 1070.9,546.5 1073.5,538.5 1076.0,522.2 1078.5,580.1 1081.0,592.5 1083.6,434.4 1086.1,524.5 1088.6,531.2 1091.2,538.9 1093.7,522.0 1096.2,519.6 1098.8,520.1 1101.3,497.3 1103.8,530.8 1106.4,517.9 1108.9,537.9 1111.4,527.7 1113.9,518.7 1116.5,523.6 1119.0,521.5 1121.5,540.9 1124.1,592.5 1126.6,559.6 1129.1,545.4 1131.7,523.3 1134.2,529.4 1136.7,532.0 1139.3,547.4 1141.8,550.6 1144.3,547.0 1146.9,550.2 1149.4,543.0 1151.9,542.8 1154.4,531.5 1157.0,554.9 1159.5,547.4 1162.0,556.0 1164.6,489.8 1167.1,545.9 1169.6,545.5 1172.2,540.6 1174.7,552.4 1177.2,556.7 1179.8,565.5 1182.3,551.9 1184.8,547.9 1187.3,555.2 1189.9,557.8 1192.4,567.6 1194.9,563.5 1197.5,566.1 1200.0,563.8 1202.5,566.4 1205.1,557.8 1207.6,561.3 1210.1,569.8 1212.7,568.3 1215.2,575.0 1217.7,567.2 1220.3,570.9 1222.8,564.8 1225.3,592.5 1227.8,592.5 1230.4,560.2 1232.9,575.8 1235.4,574.6 1238.0,575.6 1240.5,574.4 1243.0,592.5 1245.6,592.5 1248.1,559.9 1250.6,577.8 1253.2,577.2 1255.7,577.8 1258.2,577.0 1260.7,592.5 1263.3,592.5 1265.8,559.7 1268.3,577.3 1270.9,577.1 1273.4,577.8 1275.9,578.2 1278.5,592.5 1281.0,592.5 1283.5,559.4 1286.1,577.2 1288.6,578.9 1291.1,578.5 1293.7,577.4 1296.2,592.5 1298.7,592.5 1301.2,547.0 1303.8,578.1 1306.3,576.8 1308.8,578.9 1311.4,578.0 1313.9,592.5 1316.4,592.5 1319.0,540.3 1321.5,578.4 1324.0,578.8 1326.6,578.5 1329.1,578.5 1331.6,592.5 1334.1,592.5 1336.7,541.7 1339.2,577.6 1341.7,577.4 1344.3,577.2 1346.8,577.8 1349.3,592.5 1351.9,592.5 1354.4,543.1 1356.9,577.4 1359.5,578.0 1362.0,577.1 1364.5,579.1 1367.0,592.5 1369.6,592.5 1372.1,544.5 1374.6,578.9 1377.2,579.1 1379.7,579.5 1382.2,578.6 1384.8,592.5 1387.3,592.5 1389.8,552.8 1392.4,580.9 1394.9,579.8 1397.4,581.1 1400.0,581.4 1402.5,592.5 1405.0,592.5 1407.5,558.6 1410.1,582.0 1412.6,582.4 1415.1,583.1 1417.7,583.7 1420.2,592.5 1422.7,592.5 1425.3,568.1 1427.8,583.5 1430.3,584.6 1432.9,585.2 1435.4,584.7 1437.9,592.5 1440.4,592.5 1443.0,573.5 1445.5,586.0 1448.0,586.5 1450.6,586.7 1453.1,586.5 1455.6,592.5 1458.2,592.5 1460.7,578.4 1463.2,588.0 1465.8,588.1 1468.3,587.9 1470.8,588.4 1473.4,592.5 1475.9,592.5 1478.4,580.5 1480.9,588.9 1483.5,589.2 1486.0,589.0 1488.5,589.2 1491.1,592.5 1493.6,592.5 1496.1,582.6 1498.7,589.8 1501.2,589.8 1503.7,589.9 1506.3,589.6 1508.8,592.5 1511.3,592.5 1513.8,583.4 1516.4,589.7 1518.9,589.5 1521.4,589.7 1524.0,589.6 1526.5,592.5 1529.0,592.5 1531.6,584.2 1534.1,589.8 1536.6,589.7 1539.2,589.4 1541.7,589.5 1544.2,592.5 1546.8,592.5 1549.3,585.0 1551.8,589.4 1554.3,589.5 1556.9,589.5 1559.4,589.6"/>
</g>
<path d="M203.3 592.2 H322 L350 592.9" stroke="#76877a" stroke-width="5.8" fill="none"/>
<rect x="139.7" y="49.8" width="1488.1" height="648.2" fill="none" stroke="#1c1c1c" stroke-width="1.9"/>
<path d="M154.7 698.0 v7 M306.6 698.0 v7 M461.0 698.0 v7 M615.3 698.0 v7 M772.3 698.0 v7 M926.7 698.0 v7 M1081.0 698.0 v7 M1230.4 698.0 v7 M1384.8 698.0 v7 M1539.2 698.0 v7 M139.7 675.8 h-7.6 M139.7 593.0 h-7.6 M139.7 510.2 h-7.6 M139.7 427.4 h-7.6 M139.7 344.6 h-7.6 M139.7 261.8 h-7.6 M139.7 179.0 h-7.6 M139.7 96.2 h-7.6" stroke="#000" stroke-width="1.6" fill="none"/>
<g font-size="20.8px" fill="#000">
<text x="125.0" y="684.7" text-anchor="end">−10000</text>
<text x="125.0" y="601.9" text-anchor="end">0</text>
<text x="125.0" y="519.1" text-anchor="end">10000</text>
<text x="125.0" y="436.3" text-anchor="end">20000</text>
<text x="125.0" y="353.5" text-anchor="end">30000</text>
<text x="125.0" y="270.7" text-anchor="end">40000</text>
<text x="125.0" y="187.9" text-anchor="end">50000</text>
<text x="125.0" y="105.1" text-anchor="end">60000</text>
<text transform="translate(165.6,724.9) rotate(-45)" text-anchor="end">2020-01</text>
<text transform="translate(317.5,724.9) rotate(-45)" text-anchor="end">2020-03</text>
<text transform="translate(471.9,724.9) rotate(-45)" text-anchor="end">2020-05</text>
<text transform="translate(626.2,724.9) rotate(-45)" text-anchor="end">2020-07</text>
<text transform="translate(783.2,724.9) rotate(-45)" text-anchor="end">2020-09</text>
<text transform="translate(937.6,724.9) rotate(-45)" text-anchor="end">2020-11</text>
<text transform="translate(1077.9,724.9) rotate(-45)" text-anchor="end">2021-01</text>
<text transform="translate(1227.3,724.9) rotate(-45)" text-anchor="end">2021-03</text>
<text transform="translate(1381.7,724.9) rotate(-45)" text-anchor="end">2021-05</text>
<text transform="translate(1536.1,724.9) rotate(-45)" text-anchor="end">2021-07</text>
<text x="882.9" y="813" text-anchor="middle">Dates</text>
<text transform="translate(26.8,375.1) rotate(-90)" text-anchor="middle">Daily new cases</text>
</g>
<text transform="translate(883.3,35.7) scale(1,1.08)" text-anchor="middle" font-size="24.93px" fill="#000080">Containing covid-19 pandemic: daily new cases for the top 10 states as of 7/10/2021 (Data: JHU).</text>
<rect x="1390.8" y="60.3" width="226.2" height="319.2" rx="4" ry="4" fill="#fff" fill-opacity="0.8" stroke="#ccc" stroke-opacity="0.8" stroke-width="1.6"/>
<g font-size="20.6px" fill="#000">
<path d="M1399 76.0 H1441" stroke="#ff0000" stroke-width="3.3" stroke-linecap="square" fill="none"/>
<text x="1458.2" y="83.6">California</text>
<path d="M1399 107.5 H1441" stroke="#ffa500" stroke-width="3.3" stroke-linecap="square" fill="none"/>
<text x="1458.2" y="115.1">Texas</text>
<path d="M1399 139.0 H1441" stroke="#0000ff" stroke-width="3.3" stroke-linecap="square" fill="none"/>
<text x="1458.2" y="146.6">New York</text>
<path d="M1399 170.6 H1441" stroke="#008000" stroke-width="3.3" stroke-linecap="square" fill="none"/>
<text x="1458.2" y="178.2">New Jersey</text>
<path d="M1399 202.1 H1441" stroke="#87ceeb" stroke-width="3.3" stroke-linecap="square" fill="none"/>
<text x="1458.2" y="209.7">Ohio</text>
<path d="M1399 233.6 H1441" stroke="#a52a2a" stroke-width="3.3" stroke-linecap="square" fill="none"/>
<text x="1458.2" y="241.2">Pennsylvania</text>
<path d="M1399 265.1 H1441" stroke="#000000" stroke-width="3.3" stroke-linecap="square" fill="none"/>
<text x="1458.2" y="272.7">Florida</text>
<path d="M1399 296.6 H1441" stroke="#ff00ff" stroke-width="3.3" stroke-linecap="square" fill="none"/>
<text x="1458.2" y="304.2">Georgia</text>
<path d="M1399 328.2 H1441" stroke="#00ff00" stroke-width="3.3" stroke-linecap="square" fill="none"/>
<text x="1458.2" y="335.8">Illinois</text>
<path d="M1399 359.7 H1441" stroke="#808080" stroke-width="3.3" stroke-linecap="square" fill="none"/>
<text x="1458.2" y="367.3">North Carolina</text>
</g>
</svg></body></html>
